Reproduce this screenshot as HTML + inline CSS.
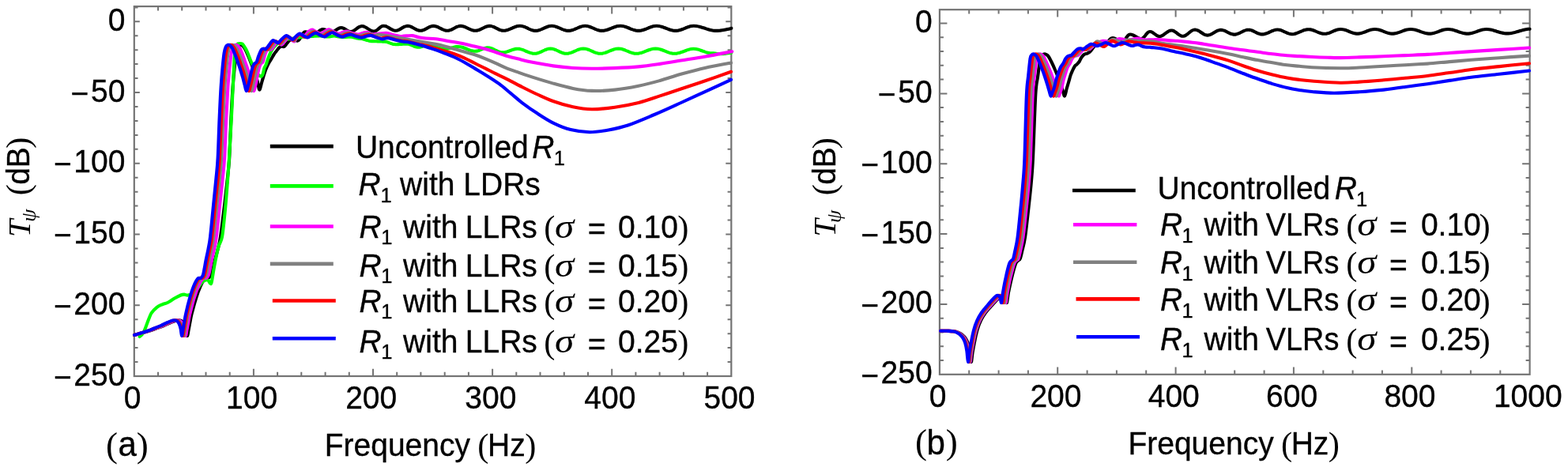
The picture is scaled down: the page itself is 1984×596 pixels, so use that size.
<!DOCTYPE html>
<html><head><meta charset="utf-8"><style>
html,body{margin:0;padding:0;background:#fff;}
svg{display:block;}
text{font-family:"Liberation Sans",Arial,sans-serif;font-size:39px;fill:#000;}
</style></head><body>
<svg width="1984" height="596" viewBox="0 0 1984 596">
<rect width="1984" height="596" fill="#fff"/>
<rect x="169.8" y="8.1" width="755.5" height="467.9" fill="none" stroke="#747474" stroke-width="2.2"/>
<path d="M200.0,476.0v-5.3M200.0,8.1v5.3M230.2,476.0v-5.3M230.2,8.1v5.3M260.5,476.0v-5.3M260.5,8.1v5.3M290.7,476.0v-5.3M290.7,8.1v5.3M320.9,476.0v-9.3M320.9,8.1v9.3M351.1,476.0v-5.3M351.1,8.1v5.3M381.3,476.0v-5.3M381.3,8.1v5.3M411.6,476.0v-5.3M411.6,8.1v5.3M441.8,476.0v-5.3M441.8,8.1v5.3M472.0,476.0v-9.3M472.0,8.1v9.3M502.2,476.0v-5.3M502.2,8.1v5.3M532.4,476.0v-5.3M532.4,8.1v5.3M562.7,476.0v-5.3M562.7,8.1v5.3M592.9,476.0v-5.3M592.9,8.1v5.3M623.1,476.0v-9.3M623.1,8.1v9.3M653.3,476.0v-5.3M653.3,8.1v5.3M683.5,476.0v-5.3M683.5,8.1v5.3M713.8,476.0v-5.3M713.8,8.1v5.3M744.0,476.0v-5.3M744.0,8.1v5.3M774.2,476.0v-9.3M774.2,8.1v9.3M804.4,476.0v-5.3M804.4,8.1v5.3M834.6,476.0v-5.3M834.6,8.1v5.3M864.9,476.0v-5.3M864.9,8.1v5.3M895.1,476.0v-5.3M895.1,8.1v5.3M169.8,458.1h4.7M925.3,458.1h-4.7M169.8,440.1h4.7M925.3,440.1h-4.7M169.8,422.2h4.7M925.3,422.2h-4.7M169.8,404.2h4.7M925.3,404.2h-4.7M169.8,386.3h7.0M925.3,386.3h-7.0M169.8,368.3h4.7M925.3,368.3h-4.7M169.8,350.4h4.7M925.3,350.4h-4.7M169.8,332.4h4.7M925.3,332.4h-4.7M169.8,314.5h4.7M925.3,314.5h-4.7M169.8,296.5h7.0M925.3,296.5h-7.0M169.8,278.6h4.7M925.3,278.6h-4.7M169.8,260.6h4.7M925.3,260.6h-4.7M169.8,242.7h4.7M925.3,242.7h-4.7M169.8,224.7h4.7M925.3,224.7h-4.7M169.8,206.8h7.0M925.3,206.8h-7.0M169.8,188.8h4.7M925.3,188.8h-4.7M169.8,170.9h4.7M925.3,170.9h-4.7M169.8,152.9h4.7M925.3,152.9h-4.7M169.8,135.0h4.7M925.3,135.0h-4.7M169.8,117.0h7.0M925.3,117.0h-7.0M169.8,99.1h4.7M925.3,99.1h-4.7M169.8,81.1h4.7M925.3,81.1h-4.7M169.8,63.2h4.7M925.3,63.2h-4.7M169.8,45.2h4.7M925.3,45.2h-4.7M169.8,27.3h7.0M925.3,27.3h-7.0M169.8,9.4h4.7M925.3,9.4h-4.7" stroke="#747474" stroke-width="2" fill="none"/>
<text transform="translate(136.73,38.80) scale(0.9630,1.0000)" style="stroke:#000;stroke-width:0.35px;font-size:40.50px">0</text>
<text transform="translate(115.04,128.54) scale(0.9630,1.0000)" style="stroke:#000;stroke-width:0.35px;font-size:40.50px">50</text>
<text transform="translate(89.62,131.74) scale(0.9630,1.0000)" style="stroke:#000;stroke-width:0.35px;font-size:40.50px">−</text>
<text transform="translate(93.35,218.28) scale(0.9630,1.0000)" style="stroke:#000;stroke-width:0.35px;font-size:40.50px">100</text>
<text transform="translate(67.93,221.48) scale(0.9630,1.0000)" style="stroke:#000;stroke-width:0.35px;font-size:40.50px">−</text>
<text transform="translate(93.35,308.02) scale(0.9630,1.0000)" style="stroke:#000;stroke-width:0.35px;font-size:40.50px">150</text>
<text transform="translate(67.93,311.22) scale(0.9630,1.0000)" style="stroke:#000;stroke-width:0.35px;font-size:40.50px">−</text>
<text transform="translate(93.35,397.76) scale(0.9630,1.0000)" style="stroke:#000;stroke-width:0.35px;font-size:40.50px">200</text>
<text transform="translate(67.93,400.96) scale(0.9630,1.0000)" style="stroke:#000;stroke-width:0.35px;font-size:40.50px">−</text>
<text transform="translate(93.35,487.50) scale(0.9630,1.0000)" style="stroke:#000;stroke-width:0.35px;font-size:40.50px">250</text>
<text transform="translate(67.93,490.70) scale(0.9630,1.0000)" style="stroke:#000;stroke-width:0.35px;font-size:40.50px">−</text>
<text transform="translate(156.66,517.30) scale(0.9630,1.0000)" style="stroke:#000;stroke-width:0.35px;font-size:40.50px">0</text>
<text transform="translate(286.07,517.30) scale(0.9630,1.0000)" style="stroke:#000;stroke-width:0.35px;font-size:40.50px">100</text>
<text transform="translate(437.17,517.30) scale(0.9630,1.0000)" style="stroke:#000;stroke-width:0.35px;font-size:40.50px">200</text>
<text transform="translate(588.27,517.30) scale(0.9630,1.0000)" style="stroke:#000;stroke-width:0.35px;font-size:40.50px">300</text>
<text transform="translate(739.37,517.30) scale(0.9630,1.0000)" style="stroke:#000;stroke-width:0.35px;font-size:40.50px">400</text>
<text transform="translate(890.47,517.30) scale(0.9630,1.0000)" style="stroke:#000;stroke-width:0.35px;font-size:40.50px">500</text>
<rect x="1188.9" y="12.2" width="746.7" height="461.6" fill="none" stroke="#747474" stroke-width="2.2"/>
<path d="M1226.2,473.8v-5.2M1226.2,12.2v5.2M1263.6,473.8v-5.2M1263.6,12.2v5.2M1300.9,473.8v-5.2M1300.9,12.2v5.2M1338.2,473.8v-9.2M1338.2,12.2v9.2M1375.6,473.8v-5.2M1375.6,12.2v5.2M1412.9,473.8v-5.2M1412.9,12.2v5.2M1450.2,473.8v-5.2M1450.2,12.2v5.2M1487.6,473.8v-9.2M1487.6,12.2v9.2M1524.9,473.8v-5.2M1524.9,12.2v5.2M1562.2,473.8v-5.2M1562.2,12.2v5.2M1599.6,473.8v-5.2M1599.6,12.2v5.2M1636.9,473.8v-9.2M1636.9,12.2v9.2M1674.3,473.8v-5.2M1674.3,12.2v5.2M1711.6,473.8v-5.2M1711.6,12.2v5.2M1748.9,473.8v-5.2M1748.9,12.2v5.2M1786.3,473.8v-9.2M1786.3,12.2v9.2M1823.6,473.8v-5.2M1823.6,12.2v5.2M1860.9,473.8v-5.2M1860.9,12.2v5.2M1898.3,473.8v-5.2M1898.3,12.2v5.2M1188.9,456.0h5.0M1935.6,456.0h-5.0M1188.9,438.3h5.0M1935.6,438.3h-5.0M1188.9,420.5h5.0M1935.6,420.5h-5.0M1188.9,402.7h5.0M1935.6,402.7h-5.0M1188.9,384.9h9.5M1935.6,384.9h-9.5M1188.9,367.2h5.0M1935.6,367.2h-5.0M1188.9,349.4h5.0M1935.6,349.4h-5.0M1188.9,331.6h5.0M1935.6,331.6h-5.0M1188.9,313.9h5.0M1935.6,313.9h-5.0M1188.9,296.1h9.5M1935.6,296.1h-9.5M1188.9,278.3h5.0M1935.6,278.3h-5.0M1188.9,260.5h5.0M1935.6,260.5h-5.0M1188.9,242.8h5.0M1935.6,242.8h-5.0M1188.9,225.0h5.0M1935.6,225.0h-5.0M1188.9,207.2h9.5M1935.6,207.2h-9.5M1188.9,189.4h5.0M1935.6,189.4h-5.0M1188.9,171.7h5.0M1935.6,171.7h-5.0M1188.9,153.9h5.0M1935.6,153.9h-5.0M1188.9,136.1h5.0M1935.6,136.1h-5.0M1188.9,118.4h9.5M1935.6,118.4h-9.5M1188.9,100.6h5.0M1935.6,100.6h-5.0M1188.9,82.8h5.0M1935.6,82.8h-5.0M1188.9,65.0h5.0M1935.6,65.0h-5.0M1188.9,47.3h5.0M1935.6,47.3h-5.0M1188.9,29.5h9.5M1935.6,29.5h-9.5" stroke="#747474" stroke-width="2" fill="none"/>
<text transform="translate(1157.93,41.00) scale(0.9630,1.0000)" style="stroke:#000;stroke-width:0.35px;font-size:40.50px">0</text>
<text transform="translate(1136.24,129.86) scale(0.9630,1.0000)" style="stroke:#000;stroke-width:0.35px;font-size:40.50px">50</text>
<text transform="translate(1110.82,133.06) scale(0.9630,1.0000)" style="stroke:#000;stroke-width:0.35px;font-size:40.50px">−</text>
<text transform="translate(1114.55,218.72) scale(0.9630,1.0000)" style="stroke:#000;stroke-width:0.35px;font-size:40.50px">100</text>
<text transform="translate(1089.13,221.92) scale(0.9630,1.0000)" style="stroke:#000;stroke-width:0.35px;font-size:40.50px">−</text>
<text transform="translate(1114.55,307.58) scale(0.9630,1.0000)" style="stroke:#000;stroke-width:0.35px;font-size:40.50px">150</text>
<text transform="translate(1089.13,310.78) scale(0.9630,1.0000)" style="stroke:#000;stroke-width:0.35px;font-size:40.50px">−</text>
<text transform="translate(1114.55,396.44) scale(0.9630,1.0000)" style="stroke:#000;stroke-width:0.35px;font-size:40.50px">200</text>
<text transform="translate(1089.13,399.64) scale(0.9630,1.0000)" style="stroke:#000;stroke-width:0.35px;font-size:40.50px">−</text>
<text transform="translate(1114.55,485.30) scale(0.9630,1.0000)" style="stroke:#000;stroke-width:0.35px;font-size:40.50px">250</text>
<text transform="translate(1089.13,488.50) scale(0.9630,1.0000)" style="stroke:#000;stroke-width:0.35px;font-size:40.50px">−</text>
<text transform="translate(1175.76,515.20) scale(0.9630,1.0000)" style="stroke:#000;stroke-width:0.35px;font-size:40.50px">0</text>
<text transform="translate(1303.41,515.20) scale(0.9630,1.0000)" style="stroke:#000;stroke-width:0.35px;font-size:40.50px">200</text>
<text transform="translate(1452.75,515.20) scale(0.9630,1.0000)" style="stroke:#000;stroke-width:0.35px;font-size:40.50px">400</text>
<text transform="translate(1602.09,515.20) scale(0.9630,1.0000)" style="stroke:#000;stroke-width:0.35px;font-size:40.50px">600</text>
<text transform="translate(1751.43,515.20) scale(0.9630,1.0000)" style="stroke:#000;stroke-width:0.35px;font-size:40.50px">800</text>
<text transform="translate(1889.92,515.20) scale(0.9630,1.0000)" style="stroke:#000;stroke-width:0.35px;font-size:40.50px">1000</text>
<path d="M170.0,424.0C171.5,423.6 175.8,422.4 178.9,421.5C182.0,420.6 185.6,419.8 188.7,418.8C191.9,417.8 194.8,416.6 197.9,415.5C201.0,414.4 204.5,413.2 207.5,412.0C210.4,410.8 212.9,409.4 215.7,408.3C218.5,407.2 222.0,405.8 224.3,405.4C226.6,405.0 227.9,405.1 229.3,405.8C230.8,406.5 232.0,407.8 233.0,409.5C234.0,411.2 234.7,413.4 235.4,416.0C236.0,418.6 236.4,424.8 236.9,425.0C237.5,425.2 238.1,419.9 238.7,417.0C239.3,414.1 239.8,410.8 240.5,407.5C241.1,404.2 241.3,402.2 242.6,397.1C243.9,392.0 246.3,382.9 248.2,377.0C250.0,371.1 251.9,366.1 253.8,362.0C255.6,357.9 257.8,354.4 259.4,352.7C261.1,351.0 262.6,352.6 263.9,351.8C265.2,351.0 266.3,350.0 267.2,348.0C268.1,346.0 268.7,343.0 269.4,340.0C270.2,337.0 270.7,334.2 271.7,330.0C272.8,325.8 274.5,320.0 275.7,315.0C276.9,310.0 277.4,310.0 278.9,300.0C280.4,290.0 283.1,267.5 284.6,255.0C286.0,242.5 286.9,234.2 287.9,225.0C288.8,215.8 289.4,212.5 290.2,200.0C290.9,187.5 291.6,165.0 292.4,150.0C293.1,135.0 293.8,120.8 294.6,110.0C295.3,99.2 296.0,92.2 296.8,85.0C297.5,77.8 298.2,71.3 299.0,67.0C299.7,62.7 300.5,60.8 301.4,59.0C302.3,57.2 303.6,56.6 304.5,56.4C305.4,56.2 306.2,57.0 307.0,57.8C307.8,58.6 308.7,59.6 309.5,61.0C310.3,62.4 311.1,64.2 312.0,66.0C312.9,67.8 313.7,69.8 314.6,72.0C315.5,74.2 316.5,77.0 317.5,79.5C318.5,82.0 319.5,84.4 320.5,87.0C321.5,89.6 322.6,92.2 323.5,95.0C324.4,97.8 325.2,101.0 326.0,104.0C326.8,107.0 327.4,112.2 328.0,113.3C328.6,114.4 329.1,111.9 329.6,110.5C330.1,109.1 330.4,107.2 331.0,105.0C331.6,102.8 332.4,99.8 333.3,97.0C334.2,94.2 335.2,90.8 336.3,88.0C337.4,85.2 338.5,82.8 339.7,80.5C340.9,78.2 342.4,76.2 343.5,74.3C344.6,72.4 345.5,70.5 346.5,69.0C347.5,67.5 348.4,66.4 349.5,65.0C350.6,63.6 351.9,61.6 353.0,60.5C354.1,59.4 354.9,58.9 356.0,58.6C357.1,58.4 358.3,59.6 359.5,59.0C360.7,58.4 361.8,56.4 363.0,55.0C364.2,53.6 365.7,51.5 367.0,50.8C368.3,50.1 369.4,50.5 371.0,50.6C372.6,50.7 375.2,51.5 376.3,51.6C377.4,51.7 377.1,51.4 377.6,51.2C378.0,50.9 378.4,50.5 378.8,49.9C379.2,49.4 379.7,48.8 380.1,48.1C380.5,47.4 380.9,46.7 381.4,46.0C381.8,45.2 382.2,44.5 382.6,43.8C383.0,43.1 383.5,42.5 383.9,42.0C384.3,41.4 384.7,41.0 385.1,40.7C385.6,40.5 386.0,40.4 386.4,40.3C386.8,40.2 387.3,40.3 387.7,40.4C388.1,40.5 388.6,40.6 389.0,40.8C389.4,40.9 389.9,41.1 390.3,41.3C390.7,41.4 391.2,41.7 391.6,41.8C392.0,42.0 392.5,42.3 392.9,42.4C393.3,42.6 393.8,42.8 394.2,42.9C394.6,43.1 395.1,43.2 395.5,43.3C395.9,43.4 396.3,43.4 396.8,43.4C397.3,43.4 397.8,43.3 398.3,43.2C398.8,43.0 399.2,42.8 399.7,42.5C400.2,42.2 400.7,41.8 401.2,41.5C401.7,41.1 402.2,40.7 402.6,40.2C403.1,39.8 403.6,39.4 404.1,39.0C404.6,38.7 405.1,38.3 405.6,38.0C406.1,37.7 406.6,37.5 407.0,37.3C407.5,37.2 408.0,37.1 408.5,37.1C409.0,37.1 409.4,37.1 409.9,37.2C410.3,37.3 410.8,37.4 411.3,37.6C411.7,37.7 412.2,37.9 412.7,38.1C413.1,38.3 413.6,38.5 414.1,38.7C414.5,38.9 415.0,39.1 415.4,39.3C415.9,39.5 416.4,39.7 416.8,39.8C417.3,40.0 417.8,40.1 418.2,40.2C418.7,40.3 419.1,40.3 419.6,40.3C420.1,40.3 420.6,40.2 421.1,40.1C421.6,40.0 422.1,39.8 422.6,39.5C423.1,39.3 423.6,39.0 424.1,38.7C424.6,38.4 425.1,38.0 425.6,37.7C426.2,37.4 426.7,37.0 427.2,36.7C427.7,36.4 428.2,36.1 428.7,35.9C429.2,35.6 429.7,35.4 430.2,35.3C430.7,35.2 431.2,35.1 431.7,35.1C432.2,35.1 432.7,35.2 433.2,35.3C433.7,35.4 434.2,35.6 434.7,35.8C435.2,36.1 435.7,36.3 436.2,36.6C436.7,36.9 437.2,37.3 437.8,37.6C438.3,37.9 438.8,38.3 439.3,38.6C439.8,38.9 440.3,39.1 440.8,39.4C441.3,39.6 441.8,39.8 442.3,39.9C442.8,40.0 443.3,40.1 443.8,40.1C444.3,40.1 445.0,40.0 445.6,39.8C446.1,39.7 446.7,39.4 447.3,39.1C447.9,38.8 448.5,38.4 449.1,37.9C449.6,37.5 450.2,37.0 450.8,36.6C451.4,36.2 452.0,35.7 452.6,35.3C453.1,34.8 453.7,34.4 454.3,34.1C454.9,33.8 455.5,33.5 456.1,33.4C456.6,33.2 457.2,33.1 457.8,33.1C458.4,33.1 459.1,33.2 459.7,33.3C460.4,33.5 461.0,33.8 461.7,34.1C462.3,34.3 463.0,34.7 463.6,35.1C464.3,35.5 464.9,35.9 465.6,36.4C466.2,36.8 466.8,37.2 467.5,37.6C468.1,38.0 468.8,38.4 469.4,38.6C470.1,38.9 470.7,39.2 471.4,39.4C472.0,39.5 472.7,39.6 473.3,39.6C473.9,39.6 474.3,39.5 474.8,39.3C475.3,39.2 475.8,38.9 476.3,38.6C476.8,38.3 477.3,37.9 477.8,37.5C478.3,37.1 478.8,36.6 479.3,36.2C479.8,35.7 480.3,35.2 480.8,34.8C481.3,34.4 481.8,34.0 482.3,33.7C482.8,33.4 483.3,33.1 483.8,33.0C484.3,32.8 484.7,32.7 485.3,32.7C485.9,32.7 486.6,32.8 487.2,32.9C487.8,33.1 488.5,33.3 489.1,33.6C489.7,33.8 490.4,34.2 491.0,34.6C491.6,34.9 492.3,35.3 492.9,35.7C493.5,36.1 494.2,36.5 494.8,36.8C495.4,37.2 496.1,37.6 496.7,37.8C497.3,38.1 498.0,38.3 498.6,38.5C499.2,38.6 499.9,38.7 500.5,38.7C501.1,38.7 501.8,38.6 502.4,38.5C503.1,38.3 503.7,38.1 504.4,37.9C505.0,37.6 505.6,37.3 506.3,36.9C506.9,36.6 507.6,36.2 508.2,35.8C508.8,35.4 509.5,35.0 510.1,34.7C510.8,34.3 511.4,34.0 512.0,33.7C512.7,33.5 513.3,33.3 514.0,33.1C514.6,33.0 515.2,32.9 515.9,32.9C516.6,32.9 517.2,33.0 517.9,33.1C518.6,33.3 519.2,33.5 519.9,33.8C520.6,34.0 521.2,34.4 521.9,34.7C522.6,35.1 523.2,35.5 523.9,35.8C524.6,36.2 525.2,36.6 525.9,37.0C526.6,37.3 527.2,37.7 527.9,37.9C528.6,38.2 529.2,38.4 529.9,38.6C530.6,38.7 531.2,38.8 531.9,38.8C532.6,38.8 533.3,38.7 534.0,38.6C534.6,38.4 535.3,38.2 536.0,37.9C536.7,37.7 537.4,37.3 538.1,37.0C538.8,36.6 539.5,36.2 540.1,35.9C540.8,35.5 541.5,35.1 542.2,34.7C542.9,34.4 543.6,34.0 544.3,33.8C545.0,33.5 545.6,33.3 546.3,33.1C547.0,33.0 547.7,32.9 548.4,32.9C549.1,32.9 549.9,33.0 550.6,33.1C551.3,33.3 552.1,33.5 552.8,33.8C553.5,34.0 554.3,34.4 555.0,34.7C555.7,35.1 556.5,35.5 557.2,35.8C557.9,36.2 558.7,36.6 559.4,37.0C560.1,37.3 560.9,37.7 561.6,37.9C562.3,38.2 563.1,38.4 563.8,38.6C564.5,38.7 565.3,38.8 566.0,38.8C566.7,38.8 567.4,38.7 568.1,38.6C568.8,38.4 569.5,38.2 570.2,37.9C570.9,37.7 571.6,37.3 572.3,37.0C573.0,36.6 573.7,36.2 574.4,35.9C575.0,35.5 575.7,35.1 576.4,34.7C577.1,34.4 577.8,34.0 578.5,33.8C579.2,33.5 579.9,33.3 580.6,33.1C581.3,33.0 582.0,32.9 582.7,32.9C583.4,32.9 584.3,33.0 585.1,33.1C585.8,33.3 586.6,33.5 587.4,33.8C588.2,34.0 589.0,34.4 589.8,34.7C590.5,35.1 591.3,35.5 592.1,35.8C592.9,36.2 593.7,36.6 594.5,37.0C595.2,37.3 596.0,37.7 596.8,37.9C597.6,38.2 598.4,38.4 599.1,38.6C599.9,38.7 600.7,38.8 601.5,38.8C602.3,38.8 603.0,38.7 603.8,38.6C604.5,38.4 605.3,38.2 606.0,37.9C606.8,37.7 607.5,37.3 608.3,37.0C609.0,36.6 609.8,36.2 610.5,35.9C611.3,35.5 612.1,35.1 612.8,34.7C613.6,34.4 614.3,34.0 615.1,33.8C615.8,33.5 616.6,33.3 617.3,33.1C618.1,33.0 618.9,32.9 619.6,32.9C620.3,32.9 621.0,33.0 621.8,33.1C622.5,33.3 623.2,33.5 624.0,33.8C624.7,34.0 625.4,34.4 626.1,34.7C626.9,35.1 627.6,35.5 628.3,35.8C629.0,36.2 629.8,36.6 630.5,37.0C631.2,37.3 631.9,37.7 632.6,37.9C633.4,38.2 634.1,38.4 634.8,38.6C635.6,38.7 636.2,38.8 637.0,38.8C637.8,38.8 638.7,38.7 639.6,38.6C640.5,38.4 641.3,38.2 642.2,37.9C643.1,37.7 643.9,37.3 644.8,36.9C645.7,36.6 646.5,36.2 647.4,35.8C648.3,35.4 649.1,35.0 650.0,34.7C650.9,34.3 651.7,33.9 652.6,33.7C653.5,33.4 654.3,33.2 655.2,33.0C656.1,32.9 657.0,32.8 657.8,32.8C658.6,32.8 659.5,32.9 660.3,33.0C661.1,33.2 661.9,33.4 662.8,33.7C663.6,34.0 664.4,34.3 665.3,34.7C666.1,35.0 666.9,35.5 667.8,35.8C668.6,36.2 669.4,36.7 670.2,37.0C671.1,37.4 671.9,37.7 672.7,38.0C673.6,38.3 674.4,38.5 675.2,38.7C676.0,38.8 676.9,38.9 677.7,38.9C678.5,38.9 679.4,38.8 680.2,38.7C681.1,38.5 682.0,38.3 682.8,38.0C683.7,37.7 684.5,37.4 685.4,37.0C686.2,36.7 687.1,36.2 687.9,35.9C688.8,35.5 689.6,35.0 690.5,34.7C691.3,34.3 692.1,34.0 693.0,33.7C693.9,33.4 694.7,33.2 695.6,33.0C696.4,32.9 697.2,32.8 698.1,32.8C699.0,32.8 699.9,32.9 700.7,33.0C701.6,33.2 702.5,33.4 703.4,33.7C704.3,34.0 705.1,34.3 706.0,34.7C706.9,35.0 707.8,35.5 708.7,35.8C709.5,36.2 710.4,36.7 711.3,37.0C712.2,37.4 713.0,37.7 713.9,38.0C714.8,38.3 715.7,38.5 716.6,38.7C717.4,38.8 718.3,38.9 719.2,38.9C720.1,38.9 721.0,38.8 721.9,38.7C722.7,38.5 723.6,38.3 724.5,38.0C725.4,37.7 726.3,37.4 727.1,37.0C728.0,36.7 728.9,36.2 729.8,35.9C730.7,35.5 731.6,35.0 732.5,34.7C733.3,34.3 734.2,34.0 735.1,33.7C736.0,33.4 736.9,33.2 737.8,33.0C738.6,32.9 739.5,32.8 740.4,32.8C741.3,32.8 742.2,32.9 743.0,33.0C743.9,33.2 744.8,33.4 745.7,33.7C746.6,34.0 747.4,34.3 748.3,34.7C749.2,35.0 750.1,35.5 751.0,35.8C751.8,36.2 752.7,36.7 753.6,37.0C754.5,37.4 755.3,37.7 756.2,38.0C757.1,38.3 758.0,38.5 758.9,38.7C759.7,38.8 760.6,38.9 761.5,38.9C762.4,38.9 763.5,38.8 764.5,38.7C765.4,38.5 766.4,38.3 767.4,38.0C768.4,37.7 769.4,37.4 770.4,37.0C771.3,36.7 772.3,36.2 773.3,35.9C774.3,35.5 775.3,35.0 776.2,34.7C777.2,34.3 778.2,34.0 779.2,33.7C780.2,33.4 781.2,33.2 782.1,33.0C783.1,32.9 784.1,32.8 785.1,32.8C786.1,32.8 787.0,32.9 788.0,33.0C788.9,33.2 789.8,33.4 790.8,33.7C791.8,34.0 792.7,34.3 793.6,34.7C794.6,35.0 795.5,35.5 796.5,35.8C797.5,36.2 798.4,36.7 799.4,37.0C800.3,37.4 801.2,37.7 802.2,38.0C803.2,38.3 804.1,38.5 805.0,38.7C806.0,38.8 806.9,38.9 807.9,38.9C808.9,38.9 809.8,38.8 810.8,38.7C811.7,38.5 812.6,38.3 813.6,38.0C814.6,37.7 815.5,37.4 816.5,37.0C817.4,36.7 818.3,36.2 819.3,35.9C820.2,35.5 821.2,35.0 822.1,34.7C823.1,34.3 824.0,34.0 825.0,33.7C826.0,33.4 826.9,33.2 827.9,33.0C828.8,32.9 829.7,32.8 830.7,32.8C831.7,32.8 832.7,32.9 833.7,33.0C834.7,33.2 835.7,33.4 836.8,33.7C837.8,34.0 838.8,34.3 839.8,34.7C840.8,35.0 841.8,35.5 842.8,35.8C843.8,36.2 844.8,36.7 845.8,37.0C846.8,37.4 847.8,37.7 848.9,38.0C849.9,38.3 850.9,38.5 851.9,38.7C852.9,38.8 853.9,38.9 854.9,38.9C855.9,38.9 856.8,38.8 857.8,38.7C858.7,38.5 859.6,38.3 860.6,38.0C861.6,37.7 862.5,37.4 863.5,37.0C864.4,36.7 865.3,36.2 866.3,35.9C867.2,35.5 868.2,35.0 869.1,34.7C870.1,34.3 871.0,34.0 872.0,33.7C873.0,33.4 873.9,33.2 874.9,33.0C875.8,32.9 876.6,32.8 877.7,32.8C878.8,32.8 880.1,32.9 881.2,33.0C882.4,33.2 883.6,33.4 884.8,33.7C886.0,34.0 887.1,34.3 888.3,34.7C889.5,35.0 890.7,35.5 891.9,35.8C893.0,36.2 894.2,36.7 895.4,37.0C896.6,37.4 897.7,37.7 898.9,38.0C900.1,38.3 901.3,38.5 902.5,38.7C903.6,38.8 904.6,38.9 906.0,38.9C907.4,38.9 909.2,38.8 910.8,38.7C912.3,38.5 913.9,38.3 915.5,38.0C917.1,37.7 918.7,37.4 920.2,37.0C921.8,36.7 924.2,36.1 925.0,35.9C925.8,35.6 925.2,35.8 925.3,35.8" stroke="#000000" stroke-width="4.1" fill="none" stroke-linejoin="round" stroke-linecap="round"/>
<path d="M176.7,426.0C177.2,425.6 178.5,424.8 179.5,423.5C180.5,422.2 181.4,421.2 182.6,418.5C183.8,415.8 185.3,411.3 186.8,407.5C188.3,403.7 189.9,398.9 191.8,395.8C193.8,392.7 196.3,390.6 198.5,388.8C200.7,387.1 202.9,386.3 205.2,385.3C207.4,384.3 209.5,384.2 212.0,383.0C214.5,381.8 217.5,379.4 220.3,377.8C223.1,376.2 226.6,374.4 228.7,373.5C230.8,372.6 231.5,372.6 233.0,372.6C234.5,372.6 236.1,373.9 237.9,373.6C239.7,373.3 242.0,372.4 244.0,371.0C246.0,369.6 248.2,367.2 250.0,365.0C251.8,362.8 253.5,359.7 255.0,358.0C256.5,356.3 257.7,355.6 259.0,355.0C260.3,354.4 261.8,353.9 263.0,354.5C264.2,355.1 265.2,357.9 266.0,358.5C266.8,359.1 266.9,359.9 267.5,358.0C268.1,356.1 268.7,351.5 269.5,346.8C270.3,342.1 271.3,335.8 272.5,330.0C273.7,324.2 275.1,317.0 276.5,312.0C277.9,307.0 279.7,307.0 281.0,300.0C282.3,293.0 283.4,280.8 284.5,270.0C285.6,259.2 286.6,246.7 287.5,235.0C288.4,223.3 289.1,214.2 290.0,200.0C290.9,185.8 291.9,166.7 292.8,150.0C293.7,133.3 294.6,112.5 295.2,100.0C295.8,87.5 296.1,81.3 296.5,75.0C296.9,68.7 297.2,65.1 297.8,62.0C298.4,58.9 299.1,57.4 300.0,56.2C300.9,55.0 302.4,55.1 303.5,55.0C304.6,54.9 305.7,55.0 306.6,55.5C307.5,56.0 308.0,57.1 308.8,58.3C309.6,59.5 310.5,60.9 311.3,62.5C312.1,64.1 313.0,66.0 313.8,68.0C314.6,70.0 315.4,72.2 316.3,74.5C317.2,76.8 318.1,79.2 319.2,81.5C320.2,83.8 321.4,85.9 322.6,88.0C323.8,90.1 325.2,92.5 326.5,94.0C327.8,95.5 329.3,96.8 330.3,96.8C331.3,96.8 331.8,95.8 332.5,94.0C333.2,92.2 333.8,88.0 334.5,86.0C335.2,84.0 335.6,84.3 336.5,82.0C337.4,79.7 338.7,75.2 340.0,72.0C341.3,68.8 342.7,65.4 344.4,62.7C346.1,60.0 348.1,57.8 350.0,56.0C351.9,54.2 353.5,53.1 356.0,52.0C358.5,50.9 361.8,50.2 365.0,49.5C368.2,48.8 371.7,48.5 375.0,48.0C378.3,47.5 381.7,46.8 385.0,46.5C388.3,46.2 391.7,46.2 395.0,46.0C398.3,45.8 401.7,45.4 405.0,45.5C408.3,45.6 412.0,46.5 415.0,46.5C418.0,46.5 420.2,45.4 423.0,45.5C425.8,45.6 428.7,46.8 432.0,47.0C435.3,47.2 440.6,46.7 442.6,46.6C444.6,46.5 443.7,46.6 444.3,46.7C444.8,46.7 445.4,46.8 446.0,47.0C446.5,47.1 447.1,47.2 447.6,47.3C448.2,47.5 448.7,47.6 449.3,47.8C449.9,48.0 450.4,48.1 451.0,48.3C451.5,48.4 452.1,48.5 452.6,48.6C453.2,48.8 453.8,48.9 454.3,48.9C454.9,49.0 455.4,49.0 456.0,49.0C456.6,49.0 457.2,49.0 457.8,49.1C458.4,49.2 459.0,49.3 459.6,49.5C460.1,49.6 460.7,49.8 461.3,50.0C461.9,50.1 462.5,50.4 463.1,50.5C463.7,50.7 464.3,51.0 464.9,51.1C465.5,51.3 466.1,51.5 466.6,51.6C467.2,51.8 467.8,51.9 468.4,52.0C469.0,52.1 469.6,52.1 470.2,52.1C470.8,52.1 471.5,52.1 472.2,52.1C472.8,52.1 473.5,52.2 474.1,52.2C474.8,52.2 475.5,52.2 476.1,52.3C476.8,52.3 477.4,52.3 478.1,52.4C478.8,52.4 479.4,52.4 480.1,52.4C480.7,52.5 481.4,52.5 482.1,52.5C482.7,52.5 483.4,52.6 484.0,52.6C484.7,52.6 485.4,52.6 486.0,52.6C486.6,52.6 487.2,52.6 487.8,52.7C488.4,52.8 489.0,53.0 489.6,53.1C490.2,53.3 490.8,53.5 491.4,53.7C492.0,53.9 492.6,54.2 493.2,54.4C493.9,54.6 494.5,54.9 495.1,55.1C495.7,55.3 496.3,55.5 496.9,55.7C497.5,55.8 498.1,56.0 498.7,56.1C499.3,56.2 499.9,56.2 500.5,56.2C501.1,56.2 501.7,56.2 502.3,56.2C502.9,56.2 503.5,56.1 504.1,56.1C504.7,56.1 505.3,56.1 505.9,56.0C506.5,56.0 507.1,55.9 507.8,55.9C508.4,55.9 509.0,55.8 509.6,55.8C510.2,55.7 510.8,55.7 511.4,55.7C512.0,55.7 512.6,55.6 513.2,55.6C513.8,55.6 514.4,55.6 515.0,55.6C515.6,55.6 516.1,55.7 516.7,55.8C517.3,55.9 517.9,56.0 518.4,56.2C519.0,56.4 519.6,56.6 520.1,56.9C520.7,57.1 521.3,57.4 521.9,57.6C522.4,57.9 523.0,58.2 523.6,58.4C524.1,58.7 524.7,58.9 525.3,59.1C525.8,59.3 526.4,59.4 527.0,59.5C527.6,59.6 528.1,59.7 528.7,59.7C529.3,59.7 529.8,59.7 530.3,59.6C530.9,59.6 531.4,59.5 532.0,59.4C532.5,59.3 533.0,59.1 533.6,59.0C534.1,58.9 534.7,58.7 535.2,58.6C535.7,58.4 536.3,58.2 536.8,58.1C537.4,58.0 537.9,57.8 538.5,57.7C539.0,57.6 539.5,57.5 540.1,57.5C540.6,57.4 541.0,57.4 541.7,57.4C542.4,57.4 543.5,57.5 544.4,57.6C545.3,57.7 546.2,57.9 547.1,58.1C548.0,58.3 548.9,58.5 549.8,58.8C550.7,59.1 551.6,59.4 552.5,59.7C553.3,60.0 554.2,60.3 555.1,60.6C556.0,60.9 556.9,61.1 557.8,61.3C558.7,61.5 559.6,61.7 560.5,61.8C561.4,61.9 562.4,62.0 563.2,62.0C564.0,62.0 564.5,62.0 565.2,61.9C565.9,61.8 566.6,61.7 567.2,61.6C567.9,61.4 568.6,61.3 569.2,61.1C569.9,60.9 570.6,60.7 571.2,60.5C571.9,60.3 572.6,60.1 573.3,59.9C573.9,59.7 574.6,59.6 575.3,59.4C575.9,59.3 576.6,59.2 577.3,59.1C578.0,59.0 578.5,59.0 579.3,59.0C580.1,59.0 581.1,59.1 582.1,59.2C583.0,59.4 583.9,59.6 584.8,59.8C585.8,60.1 586.7,60.4 587.6,60.8C588.5,61.1 589.5,61.5 590.4,61.9C591.3,62.3 592.2,62.7 593.2,63.0C594.1,63.4 595.0,63.7 596.0,64.0C596.9,64.2 597.8,64.4 598.7,64.6C599.6,64.7 600.7,64.8 601.5,64.8C602.3,64.8 602.8,64.7 603.4,64.6C604.1,64.5 604.7,64.3 605.4,64.1C606.0,63.9 606.7,63.7 607.3,63.4C608.0,63.1 608.6,62.8 609.2,62.5C609.9,62.3 610.5,62.0 611.2,61.7C611.8,61.4 612.5,61.2 613.1,61.0C613.8,60.8 614.4,60.6 615.1,60.5C615.7,60.4 616.3,60.3 617.0,60.3C617.7,60.3 618.6,60.4 619.4,60.5C620.2,60.7 621.0,60.9 621.8,61.2C622.5,61.5 623.3,61.8 624.1,62.2C624.9,62.5 625.7,63.0 626.5,63.4C627.3,63.7 628.1,64.2 628.9,64.5C629.7,64.9 630.5,65.2 631.2,65.5C632.0,65.8 632.8,66.0 633.6,66.2C634.4,66.3 635.2,66.4 636.0,66.4C636.8,66.4 637.6,66.3 638.4,66.2C639.1,66.1 639.9,65.9 640.7,65.7C641.5,65.5 642.3,65.2 643.1,64.9C643.9,64.7 644.7,64.3 645.5,64.1C646.2,63.8 647.0,63.4 647.8,63.2C648.6,62.9 649.4,62.6 650.2,62.4C651.0,62.2 651.8,62.0 652.5,61.9C653.3,61.8 654.1,61.7 654.9,61.7C655.7,61.7 656.7,61.8 657.6,61.9C658.5,62.1 659.4,62.3 660.3,62.6C661.2,62.9 662.1,63.2 663.0,63.6C663.9,63.9 664.8,64.4 665.6,64.8C666.5,65.1 667.4,65.6 668.3,65.9C669.2,66.3 670.1,66.6 671.0,66.9C671.9,67.2 672.8,67.4 673.7,67.6C674.6,67.7 675.5,67.8 676.4,67.8C677.3,67.8 678.1,67.7 678.9,67.6C679.8,67.4 680.6,67.2 681.4,66.9C682.3,66.6 683.1,66.3 683.9,65.9C684.8,65.5 685.6,65.1 686.5,64.7C687.3,64.3 688.1,63.9 689.0,63.5C689.8,63.1 690.6,62.8 691.5,62.5C692.3,62.2 693.1,62.0 694.0,61.8C694.8,61.7 695.7,61.6 696.5,61.6C697.3,61.6 698.2,61.7 699.0,61.8C699.9,62.0 700.7,62.2 701.5,62.5C702.4,62.8 703.2,63.1 704.0,63.5C704.9,63.9 705.7,64.3 706.5,64.7C707.4,65.1 708.2,65.5 709.1,65.9C709.9,66.3 710.7,66.6 711.6,66.9C712.4,67.2 713.2,67.4 714.1,67.6C714.9,67.7 715.7,67.8 716.6,67.8C717.5,67.8 718.4,67.7 719.3,67.6C720.2,67.4 721.1,67.2 722.0,66.9C722.9,66.6 723.8,66.3 724.7,65.9C725.6,65.5 726.5,65.1 727.4,64.7C728.2,64.3 729.1,63.9 730.0,63.5C730.9,63.1 731.8,62.8 732.7,62.5C733.6,62.2 734.5,62.0 735.4,61.8C736.3,61.7 737.2,61.6 738.1,61.6C739.0,61.6 739.9,61.7 740.8,61.8C741.7,62.0 742.6,62.2 743.5,62.5C744.4,62.8 745.3,63.1 746.2,63.5C747.1,63.9 748.0,64.3 748.9,64.7C749.7,65.1 750.6,65.5 751.5,65.9C752.4,66.3 753.3,66.6 754.2,66.9C755.1,67.2 756.0,67.4 756.9,67.6C757.8,67.7 758.7,67.8 759.6,67.8C760.5,67.8 761.5,67.7 762.5,67.6C763.4,67.4 764.3,67.2 765.3,66.9C766.2,66.6 767.2,66.3 768.1,65.9C769.1,65.5 770.0,65.1 771.0,64.7C772.0,64.3 772.9,63.9 773.9,63.5C774.8,63.1 775.8,62.8 776.7,62.5C777.7,62.2 778.6,62.0 779.5,61.8C780.5,61.7 781.4,61.6 782.4,61.6C783.4,61.6 784.3,61.7 785.2,61.8C786.2,62.0 787.1,62.2 788.1,62.5C789.1,62.8 790.0,63.1 791.0,63.5C791.9,63.9 792.8,64.3 793.8,64.7C794.8,65.1 795.7,65.5 796.6,65.9C797.6,66.3 798.5,66.6 799.5,66.9C800.5,67.2 801.4,67.4 802.4,67.6C803.3,67.7 804.2,67.8 805.2,67.8C806.2,67.8 807.2,67.7 808.2,67.6C809.2,67.4 810.2,67.2 811.2,66.9C812.3,66.6 813.3,66.3 814.3,65.9C815.3,65.5 816.3,65.1 817.3,64.7C818.3,64.3 819.3,63.9 820.3,63.5C821.3,63.1 822.3,62.8 823.4,62.5C824.4,62.2 825.4,62.0 826.4,61.8C827.4,61.7 828.4,61.6 829.4,61.6C830.4,61.6 831.4,61.7 832.4,61.8C833.4,62.0 834.4,62.2 835.5,62.5C836.5,62.8 837.5,63.1 838.5,63.5C839.5,63.9 840.5,64.3 841.5,64.7C842.5,65.1 843.5,65.5 844.5,65.9C845.5,66.3 846.5,66.6 847.5,66.9C848.6,67.2 849.6,67.4 850.6,67.6C851.6,67.7 852.6,67.8 853.6,67.8C854.6,67.8 855.6,67.7 856.6,67.6C857.6,67.4 858.6,67.2 859.6,66.9C860.6,66.7 861.6,66.3 862.6,65.9C863.6,65.6 864.6,65.2 865.5,64.8C866.5,64.4 867.5,64.0 868.5,63.7C869.5,63.3 870.5,62.9 871.5,62.7C872.5,62.4 873.5,62.2 874.5,62.0C875.5,61.9 876.5,61.8 877.5,61.8C878.5,61.8 879.4,61.9 880.3,62.0C881.2,62.1 882.2,62.3 883.1,62.6C884.1,62.8 885.0,63.1 885.9,63.5C886.9,63.8 887.8,64.2 888.8,64.5C889.7,64.8 890.6,65.2 891.6,65.5C892.5,65.9 893.4,66.2 894.4,66.4C895.3,66.7 896.2,66.9 897.2,67.0C898.1,67.1 899.3,67.2 900.0,67.2C900.7,67.2 901.1,67.2 901.6,67.2C902.2,67.3 902.7,67.3 903.2,67.4C903.8,67.4 904.3,67.5 904.9,67.5C905.4,67.6 906.0,67.7 906.5,67.8C907.0,67.8 907.6,67.9 908.1,68.0C908.7,68.0 909.2,68.1 909.8,68.1C910.3,68.2 910.8,68.2 911.4,68.3C911.9,68.3 912.5,68.3 913.0,68.3C913.5,68.3 914.1,68.3 914.6,68.2C915.2,68.2 915.7,68.1 916.2,68.1C916.8,68.0 917.3,67.9 917.9,67.8C918.4,67.7 919.0,67.6 919.5,67.5C920.0,67.5 920.6,67.4 921.1,67.3C921.7,67.2 922.2,67.1 922.8,67.0C923.3,67.0 924.0,66.9 924.4,66.9C924.8,66.8 925.1,66.8 925.3,66.8" stroke="#00ff00" stroke-width="4.1" fill="none" stroke-linejoin="round" stroke-linecap="round"/>
<path d="M170.0,424.0C171.4,423.6 175.6,422.4 178.6,421.5C181.7,420.6 185.1,419.8 188.1,418.8C191.2,417.8 194.0,416.6 197.0,415.5C200.0,414.4 203.4,413.2 206.3,412.0C209.2,410.8 211.6,409.4 214.3,408.3C217.0,407.2 220.4,405.8 222.6,405.4C224.8,405.0 226.1,405.1 227.5,405.8C228.9,406.5 230.1,407.8 231.0,409.5C232.0,411.2 232.7,413.4 233.3,416.0C233.9,418.6 234.3,424.8 234.8,425.0C235.4,425.2 236.0,419.9 236.5,417.0C237.1,414.1 237.6,410.8 238.3,407.5C238.9,404.2 239.1,402.2 240.3,397.1C241.6,392.0 243.9,382.9 245.7,377.0C247.5,371.1 249.3,366.1 251.1,362.0C252.9,357.9 255.0,354.4 256.6,352.7C258.3,351.0 259.7,352.6 261.0,351.8C262.2,351.0 263.1,350.0 263.9,348.0C264.7,346.0 265.1,343.0 265.7,340.0C266.3,337.0 266.8,334.2 267.6,330.0C268.5,325.8 270.0,320.0 271.0,315.0C272.0,310.0 272.4,310.0 273.7,300.0C275.0,290.0 277.2,267.5 278.6,255.0C279.9,242.5 280.9,234.2 281.8,225.0C282.7,215.8 283.3,212.5 284.1,200.0C284.8,187.5 285.5,165.0 286.2,150.0C286.9,135.0 287.7,120.8 288.4,110.0C289.1,99.2 289.8,92.2 290.5,85.0C291.3,77.8 292.0,71.3 292.7,67.0C293.5,62.7 294.2,60.7 295.1,59.0C296.0,57.3 297.1,57.0 298.0,56.8C298.9,56.6 299.8,56.9 300.7,57.6C301.6,58.3 302.5,59.3 303.5,61.0C304.4,62.7 305.4,65.3 306.5,68.0C307.5,70.7 308.6,73.8 309.7,77.0C310.9,80.2 312.1,83.6 313.2,87.0C314.3,90.4 315.5,94.1 316.4,97.5C317.4,100.9 318.2,104.6 319.0,107.5C319.8,110.4 320.5,114.6 321.1,115.0C321.7,115.4 322.2,112.2 322.8,110.0C323.3,107.8 323.9,105.2 324.5,102.0C325.2,98.8 325.9,94.2 326.6,91.0C327.3,87.8 328.1,84.8 328.8,83.0C329.4,81.2 330.1,80.7 330.7,80.0C331.3,79.3 331.8,79.9 332.5,78.6C333.1,77.3 333.8,74.0 334.4,72.0C335.0,70.0 335.5,68.4 336.1,66.8C336.8,65.2 337.4,63.4 338.1,62.6C338.8,61.8 339.5,61.9 340.3,61.9C341.0,62.0 341.7,63.4 342.5,63.0C343.3,62.7 344.2,61.3 345.1,60.1C346.0,59.0 347.0,57.2 347.9,56.0C348.8,54.9 349.5,53.3 350.4,53.1C351.3,52.9 352.3,54.2 353.4,54.8C354.4,55.4 355.3,57.1 356.6,56.5C357.8,55.9 359.3,53.0 360.7,51.5C362.2,50.0 363.9,47.8 365.2,47.6C366.6,47.4 367.8,49.3 369.0,50.1C370.1,50.9 371.2,52.9 372.2,52.5C373.3,52.1 374.2,49.3 375.3,47.7C376.4,46.1 377.6,43.4 378.8,42.8C380.0,42.2 381.4,43.8 382.6,44.1C383.9,44.4 385.1,45.4 386.3,44.7C387.5,44.0 388.7,41.3 390.1,40.1C391.6,38.9 393.3,37.5 395.0,37.6C396.7,37.7 398.6,39.7 400.5,40.5C402.4,41.3 404.4,42.7 406.1,42.5C407.9,42.3 409.3,40.4 411.0,39.5C412.7,38.6 414.2,37.1 416.1,37.3C418.0,37.5 420.4,39.6 422.5,40.5C424.6,41.4 426.6,42.6 428.5,42.6C430.4,42.6 432.2,41.3 434.0,40.8C435.8,40.3 437.1,39.4 439.1,39.6C441.1,39.8 443.6,41.3 446.0,42.0C448.4,42.7 451.0,43.6 453.2,43.6C455.4,43.6 457.1,42.2 459.0,41.8C460.9,41.3 462.7,40.6 464.9,40.9C467.1,41.2 468.0,43.4 472.0,43.5C476.0,43.6 484.5,41.6 488.7,41.7C492.9,41.8 494.2,43.3 497.0,44.0C499.8,44.7 502.7,45.7 505.5,45.9C508.3,46.1 511.2,45.5 514.0,45.4C516.8,45.3 519.6,44.8 522.3,45.1C525.0,45.4 527.2,46.6 530.0,47.2C532.8,47.8 535.4,48.2 539.0,48.5C542.6,48.8 546.9,48.6 551.6,49.2C556.3,49.8 561.2,50.8 567.2,51.9C573.2,53.0 581.9,54.5 587.4,55.6C592.9,56.7 595.5,57.5 600.0,58.6C604.5,59.7 609.7,60.8 614.2,62.0C618.7,63.2 622.7,64.6 627.0,66.0C631.3,67.4 635.2,69.1 640.0,70.5C644.8,71.9 650.4,73.3 656.0,74.6C661.6,76.0 666.4,77.3 673.7,78.8C681.0,80.2 691.5,82.2 700.0,83.4C708.5,84.6 716.9,85.5 725.0,86.0C733.1,86.6 740.1,86.8 748.9,86.8C757.7,86.8 768.2,86.5 778.0,86.1C787.8,85.7 798.4,85.2 807.9,84.4C817.4,83.5 826.0,82.2 835.0,80.9C844.0,79.6 851.9,78.2 861.6,76.6C871.3,75.0 882.7,73.3 893.0,71.4C903.3,69.6 918.2,66.7 923.5,65.7C928.8,64.7 924.8,65.5 925.0,65.5" stroke="#ff00ff" stroke-width="4.1" fill="none" stroke-linejoin="round" stroke-linecap="round"/>
<path d="M170.0,424.0C171.4,423.6 175.4,422.4 178.4,421.5C181.3,420.6 184.6,419.8 187.5,418.8C190.5,417.8 193.2,416.6 196.1,415.5C199.0,414.4 202.3,413.2 205.1,412.0C207.9,410.8 210.2,409.4 212.8,408.3C215.4,407.2 218.7,405.8 220.8,405.4C223.0,405.0 224.2,405.1 225.5,405.8C226.9,406.5 228.0,407.8 229.0,409.5C229.9,411.2 230.6,413.4 231.2,416.0C231.8,418.6 232.1,424.8 232.6,425.0C233.1,425.2 233.7,419.9 234.3,417.0C234.9,414.1 235.4,410.8 236.0,407.5C236.6,404.2 236.7,402.2 237.9,397.1C239.1,392.0 241.4,382.9 243.2,377.0C244.9,371.1 246.6,366.1 248.4,362.0C250.1,357.9 252.1,354.4 253.7,352.7C255.3,351.0 256.7,352.6 257.9,351.8C259.0,351.0 259.9,350.0 260.7,348.0C261.5,346.0 261.9,343.0 262.5,340.0C263.1,337.0 263.5,334.2 264.4,330.0C265.2,325.8 266.6,320.0 267.6,315.0C268.6,310.0 269.0,310.0 270.2,300.0C271.4,290.0 273.6,267.5 274.9,255.0C276.2,242.5 277.1,234.2 278.0,225.0C278.9,215.8 279.5,212.5 280.2,200.0C280.9,187.5 281.6,165.0 282.3,150.0C283.0,135.0 283.7,120.8 284.4,110.0C285.1,99.2 285.8,92.2 286.5,85.0C287.2,77.8 287.8,71.3 288.6,67.0C289.3,62.7 290.0,60.7 290.9,59.0C291.7,57.3 292.7,57.0 293.7,56.8C294.6,56.6 295.5,56.9 296.5,57.6C297.5,58.3 298.4,59.3 299.4,61.0C300.4,62.7 301.5,65.3 302.6,68.0C303.7,70.7 304.8,73.8 306.0,77.0C307.2,80.2 308.5,83.6 309.7,87.0C310.8,90.4 312.0,94.1 313.0,97.5C314.0,100.9 314.9,104.6 315.7,107.5C316.5,110.4 317.2,114.6 317.9,115.0C318.6,115.4 319.1,112.2 319.7,110.0C320.3,107.8 320.8,105.2 321.5,102.0C322.2,98.8 323.0,94.2 323.7,91.0C324.4,87.8 325.2,84.8 325.9,83.0C326.6,81.2 327.3,80.7 328.0,80.0C328.6,79.3 329.2,79.9 329.8,78.6C330.4,77.3 331.2,74.0 331.8,72.0C332.5,70.0 333.0,68.4 333.7,66.8C334.3,65.2 335.0,63.4 335.7,62.6C336.4,61.7 337.2,61.7 338.0,61.8C338.8,61.8 339.5,63.1 340.3,62.8C341.2,62.4 342.1,60.9 343.1,59.7C344.0,58.5 345.1,56.6 346.1,55.4C347.0,54.2 347.8,52.6 348.8,52.3C349.7,52.1 350.8,53.4 351.9,53.9C353.0,54.4 354.1,56.1 355.4,55.5C356.7,54.9 358.3,52.0 359.9,50.5C361.4,49.0 363.2,46.8 364.7,46.6C366.2,46.4 367.5,48.3 368.7,49.1C370.0,49.9 371.1,51.8 372.2,51.5C373.3,51.2 374.2,48.7 375.4,47.5C376.5,46.3 377.7,44.4 379.0,44.1C380.2,43.8 381.6,45.5 382.9,46.0C384.1,46.4 385.1,47.4 386.5,46.8C388.0,46.2 389.8,43.3 391.5,42.1C393.2,40.9 394.8,39.5 396.5,39.6C398.2,39.6 400.1,41.6 402.0,42.4C403.9,43.2 405.9,44.6 407.6,44.4C409.4,44.2 410.8,42.3 412.5,41.4C414.2,40.5 415.7,39.0 417.6,39.1C419.5,39.3 421.9,41.4 424.0,42.3C426.1,43.2 428.1,44.3 430.0,44.4C431.9,44.4 433.7,43.1 435.5,42.5C437.3,42.0 438.6,41.1 440.6,41.3C442.6,41.5 445.1,43.0 447.5,43.7C449.9,44.3 452.5,45.3 454.7,45.2C456.9,45.2 458.6,43.9 460.5,43.4C462.4,42.9 464.2,42.2 466.4,42.5C468.6,42.7 471.2,44.8 473.5,45.0C475.8,45.2 475.6,43.5 480.0,43.8C484.4,44.1 493.3,45.9 500.0,47.0C506.7,48.1 513.6,49.3 520.3,50.5C527.0,51.7 533.3,52.8 540.0,54.0C546.7,55.2 552.6,56.0 560.5,57.9C568.4,59.8 580.8,63.8 587.4,65.6C594.0,67.5 595.5,67.6 600.0,69.0C604.5,70.4 609.7,72.4 614.2,74.3C618.7,76.1 622.7,77.9 627.0,79.9C631.3,81.8 635.2,83.9 640.0,85.9C644.8,87.9 650.4,89.7 656.0,91.6C661.6,93.6 666.4,95.2 673.7,97.6C681.0,99.9 691.5,103.2 700.0,105.6C708.5,108.0 716.9,110.4 725.0,111.9C733.1,113.5 740.1,114.6 748.9,114.9C757.7,115.2 768.2,114.7 778.0,113.6C787.8,112.6 798.4,110.7 807.9,108.8C817.4,106.9 826.0,104.5 835.0,102.0C844.0,99.5 851.9,96.5 861.6,93.8C871.3,91.1 882.4,88.1 893.0,85.7C903.6,83.3 919.7,80.5 925.0,79.4" stroke="#808080" stroke-width="4.1" fill="none" stroke-linejoin="round" stroke-linecap="round"/>
<path d="M170.0,424.0C171.4,423.6 175.3,422.4 178.2,421.5C181.0,420.6 184.3,419.8 187.2,418.8C190.1,417.8 192.7,416.6 195.5,415.5C198.4,414.4 201.6,413.2 204.3,412.0C207.1,410.8 209.3,409.4 211.9,408.3C214.5,407.2 217.7,405.8 219.8,405.4C221.8,405.0 223.0,405.1 224.4,405.8C225.7,406.5 226.8,407.8 227.7,409.5C228.7,411.2 229.3,413.4 229.9,416.0C230.5,418.6 230.8,424.8 231.3,425.0C231.8,425.2 232.4,419.9 232.9,417.0C233.5,414.1 234.0,410.8 234.6,407.5C235.2,404.2 235.3,402.2 236.5,397.1C237.7,392.0 239.9,382.9 241.6,377.0C243.3,371.1 245.0,366.1 246.7,362.0C248.5,357.9 250.4,354.4 252.0,352.7C253.5,351.0 254.9,352.6 256.0,351.8C257.2,351.0 258.1,350.0 258.8,348.0C259.6,346.0 259.9,343.0 260.5,340.0C261.1,337.0 261.5,334.2 262.4,330.0C263.2,325.8 264.6,320.0 265.5,315.0C266.5,310.0 266.9,310.0 268.1,300.0C269.3,290.0 271.4,267.5 272.7,255.0C274.0,242.5 274.9,234.2 275.8,225.0C276.6,215.8 277.2,212.5 277.9,200.0C278.6,187.5 279.3,165.0 280.0,150.0C280.6,135.0 281.3,120.8 282.0,110.0C282.7,99.2 283.4,92.2 284.0,85.0C284.7,77.8 285.4,71.3 286.1,67.0C286.8,62.7 287.5,60.7 288.3,59.0C289.2,57.3 290.2,57.0 291.1,56.8C292.0,56.6 292.9,56.9 293.9,57.6C294.8,58.3 295.7,59.3 296.7,61.0C297.7,62.7 298.7,65.3 299.8,68.0C300.9,70.7 302.0,73.8 303.2,77.0C304.3,80.2 305.6,83.6 306.7,87.0C307.9,90.4 309.0,94.1 310.0,97.5C311.0,100.9 311.9,104.6 312.7,107.5C313.5,110.4 314.1,114.6 314.8,115.0C315.5,115.4 316.0,112.2 316.6,110.0C317.3,107.8 317.8,105.2 318.5,102.0C319.3,98.8 320.1,94.2 320.9,91.0C321.6,87.8 322.4,84.8 323.2,83.0C323.9,81.2 324.6,80.7 325.3,80.0C325.9,79.3 326.5,79.9 327.2,78.6C327.9,77.3 328.6,74.0 329.3,72.0C330.0,70.0 330.6,68.4 331.2,66.8C331.9,65.2 332.6,63.4 333.3,62.5C334.1,61.7 335.0,61.6 335.8,61.6C336.6,61.6 337.3,62.9 338.2,62.5C339.0,62.2 340.0,60.6 341.0,59.4C342.0,58.1 343.1,56.2 344.1,55.0C345.1,53.7 345.9,52.1 346.9,51.8C347.9,51.5 349.1,52.7 350.2,53.2C351.4,53.7 352.4,55.4 353.8,54.8C355.2,54.2 356.8,51.3 358.4,49.8C360.0,48.3 361.9,46.1 363.5,45.9C365.0,45.7 366.3,47.6 367.6,48.4C368.9,49.2 370.0,51.1 371.3,50.8C372.5,50.5 373.6,48.0 374.9,46.8C376.2,45.6 377.7,43.6 379.1,43.4C380.6,43.2 382.2,45.1 383.7,45.8C385.2,46.4 386.4,47.6 388.0,47.2C389.5,46.7 391.3,44.2 393.0,43.1C394.7,42.0 396.2,40.5 398.0,40.6C399.8,40.7 401.6,42.7 403.5,43.5C405.4,44.3 407.4,45.7 409.1,45.5C410.9,45.3 412.3,43.4 414.0,42.5C415.7,41.6 417.2,40.1 419.1,40.3C421.0,40.5 423.4,42.6 425.5,43.5C427.6,44.4 429.6,45.6 431.5,45.6C433.4,45.6 435.2,44.3 437.0,43.8C438.8,43.3 440.1,42.4 442.1,42.6C444.1,42.8 446.6,44.3 449.0,45.0C451.4,45.7 454.0,46.6 456.2,46.6C458.4,46.6 460.1,45.2 462.0,44.8C463.9,44.3 465.7,43.6 467.9,43.9C470.1,44.2 472.6,45.7 475.0,46.5C477.4,47.3 480.3,48.3 482.2,48.5C484.1,48.7 485.1,47.7 486.5,47.5C487.9,47.3 488.4,46.8 490.6,47.2C492.8,47.6 496.4,49.0 499.5,49.8C502.6,50.5 506.4,51.3 509.0,51.7C511.6,52.1 511.5,51.5 514.9,52.2C518.3,52.9 525.0,54.8 529.2,55.8C533.4,56.8 534.8,56.6 540.0,58.0C545.2,59.4 554.8,62.2 560.5,63.9C566.2,65.6 569.5,66.4 574.0,68.0C578.5,69.6 582.9,71.3 587.4,73.3C591.9,75.3 596.3,77.8 600.8,80.0C605.3,82.3 609.8,84.5 614.2,86.7C618.6,88.9 622.7,91.1 627.0,93.2C631.3,95.3 634.5,96.5 640.0,99.3C645.5,102.1 653.6,106.6 660.3,109.9C667.0,113.3 673.3,116.5 680.0,119.5C686.7,122.6 693.0,125.7 700.5,128.3C708.0,131.0 716.9,133.7 725.0,135.3C733.1,137.0 740.1,138.2 748.9,138.3C757.7,138.4 768.1,137.1 778.0,135.7C787.9,134.3 798.5,132.2 808.0,129.9C817.5,127.5 826.1,124.3 835.0,121.4C843.9,118.5 851.9,115.7 861.6,112.5C871.3,109.2 882.4,105.6 893.0,102.0C903.6,98.3 919.7,92.7 925.0,90.8" stroke="#ff0000" stroke-width="4.1" fill="none" stroke-linejoin="round" stroke-linecap="round"/>
<path d="M170.0,424.0C171.3,423.6 175.2,422.4 178.0,421.5C180.8,420.6 184.0,419.8 186.8,418.8C189.6,417.8 192.2,416.6 195.0,415.5C197.8,414.4 200.9,413.2 203.6,412.0C206.3,410.8 208.5,409.4 211.0,408.3C213.5,407.2 216.7,405.8 218.7,405.4C220.7,405.0 221.9,405.1 223.2,405.8C224.5,406.5 225.6,407.8 226.5,409.5C227.4,411.2 228.0,413.4 228.6,416.0C229.2,418.6 229.5,424.8 230.0,425.0C230.5,425.2 231.1,419.9 231.6,417.0C232.1,414.1 232.6,410.8 233.2,407.5C233.8,404.2 233.9,402.2 235.1,397.1C236.2,392.0 238.4,382.9 240.1,377.0C241.8,371.1 243.4,366.1 245.1,362.0C246.8,357.9 248.7,354.4 250.2,352.7C251.7,351.0 253.1,352.6 254.2,351.8C255.3,351.0 256.2,350.0 256.9,348.0C257.6,346.0 258.0,343.0 258.6,340.0C259.2,337.0 259.6,334.2 260.4,330.0C261.2,325.8 262.6,320.0 263.5,315.0C264.4,310.0 264.8,310.0 266.0,300.0C267.2,290.0 269.2,267.5 270.5,255.0C271.8,242.5 272.6,234.2 273.5,225.0C274.4,215.8 274.9,212.5 275.6,200.0C276.3,187.5 276.9,165.0 277.6,150.0C278.3,135.0 278.9,120.8 279.6,110.0C280.3,99.2 280.9,92.2 281.6,85.0C282.3,77.8 282.9,71.3 283.6,67.0C284.3,62.7 285.0,60.7 285.8,59.0C286.6,57.3 287.6,57.0 288.5,56.8C289.4,56.6 290.3,56.9 291.2,57.6C292.1,58.3 293.0,59.3 294.0,61.0C295.0,62.7 295.9,65.3 297.0,68.0C298.1,70.7 299.2,73.8 300.3,77.0C301.4,80.2 302.7,83.6 303.8,87.0C304.9,90.4 306.0,94.1 307.0,97.5C308.0,100.9 308.8,104.6 309.6,107.5C310.4,110.4 311.0,114.6 311.7,115.0C312.4,115.4 313.0,112.2 313.6,110.0C314.2,107.8 314.9,105.2 315.6,102.0C316.3,98.8 317.2,94.2 318.0,91.0C318.8,87.8 319.6,84.8 320.4,83.0C321.2,81.2 321.9,80.7 322.6,80.0C323.3,79.3 323.9,79.9 324.6,78.6C325.3,77.3 326.1,74.0 326.8,72.0C327.5,70.0 328.1,68.4 328.8,66.8C329.5,65.2 330.2,63.4 331.0,62.5C331.8,61.6 332.7,61.5 333.5,61.5C334.3,61.5 335.1,62.7 336.0,62.3C336.9,61.9 338.0,60.3 339.0,59.0C340.0,57.7 341.2,55.8 342.2,54.5C343.2,53.2 344.1,51.5 345.1,51.2C346.2,50.9 347.3,52.0 348.5,52.5C349.7,53.0 350.8,54.6 352.2,54.0C353.6,53.4 355.3,50.5 357.0,49.0C358.7,47.5 360.6,45.3 362.2,45.1C363.8,44.9 365.1,46.8 366.5,47.6C367.9,48.4 369.0,50.3 370.3,50.0C371.6,49.7 373.0,47.2 374.5,46.0C376.0,44.8 377.6,42.7 379.3,42.6C381.0,42.5 382.8,44.7 384.5,45.5C386.2,46.3 387.7,47.8 389.4,47.5C391.1,47.2 392.8,45.0 394.5,44.0C396.2,43.0 397.8,41.5 399.5,41.6C401.2,41.7 403.1,43.7 405.0,44.5C406.9,45.3 408.9,46.7 410.6,46.5C412.4,46.3 413.8,44.4 415.5,43.5C417.2,42.6 418.7,41.1 420.6,41.3C422.5,41.5 424.9,43.6 427.0,44.5C429.1,45.4 431.1,46.6 433.0,46.6C434.9,46.6 436.7,45.3 438.5,44.8C440.3,44.3 441.6,43.4 443.6,43.6C445.6,43.8 448.1,45.3 450.5,46.0C452.9,46.7 455.5,47.6 457.7,47.6C459.9,47.6 461.6,46.2 463.5,45.8C465.4,45.3 467.2,44.6 469.4,44.9C471.6,45.2 474.1,46.7 476.5,47.5C478.9,48.3 481.8,49.3 483.7,49.5C485.6,49.7 486.6,48.7 488.0,48.5C489.4,48.3 489.9,47.8 492.1,48.2C494.3,48.6 497.9,50.0 501.0,50.8C504.1,51.5 507.9,52.3 510.5,52.7C513.1,53.1 513.0,52.5 516.4,53.2C519.8,53.9 525.5,55.3 530.7,56.8C535.9,58.2 542.4,60.3 547.4,61.9C552.4,63.5 556.1,64.9 560.5,66.6C564.9,68.3 569.5,70.0 574.0,72.0C578.5,74.0 582.9,76.3 587.4,78.7C591.9,81.1 596.3,84.0 600.8,86.6C605.3,89.3 609.1,91.4 614.2,94.7C619.4,97.9 626.4,102.3 631.7,106.2C637.0,110.1 641.2,114.0 646.0,117.9C650.8,121.8 654.6,125.5 660.3,129.8C666.0,134.1 673.3,139.3 680.0,143.6C686.7,148.0 693.5,152.5 700.5,155.9C707.5,159.3 714.4,162.3 722.0,164.1C729.6,166.0 738.2,167.1 746.2,167.2C754.2,167.2 762.0,165.9 770.0,164.5C778.0,163.0 784.8,161.7 794.5,158.5C804.2,155.2 816.8,149.7 828.0,145.0C839.2,140.3 850.8,134.9 861.6,130.0C872.4,125.1 882.4,120.5 893.0,115.6C903.6,110.7 919.7,103.3 925.0,100.8" stroke="#0000ff" stroke-width="4.1" fill="none" stroke-linejoin="round" stroke-linecap="round"/>
<path d="M1190.1,418.7C1191.6,418.7 1196.0,418.7 1199.0,418.8C1202.0,418.9 1205.6,418.9 1208.0,419.3C1210.4,419.7 1211.7,420.2 1213.4,421.0C1215.1,421.8 1216.7,422.8 1218.0,424.0C1219.4,425.2 1220.6,426.3 1221.7,428.0C1222.8,429.7 1223.8,431.3 1224.7,434.0C1225.6,436.7 1226.3,440.0 1227.0,444.0C1227.7,448.0 1228.2,457.7 1228.8,458.0C1229.4,458.3 1229.9,450.2 1230.6,446.0C1231.3,441.8 1232.0,437.7 1233.0,433.0C1233.9,428.3 1235.1,422.6 1236.4,418.0C1237.7,413.4 1239.2,409.4 1241.0,405.7C1242.8,401.9 1244.9,398.5 1247.1,395.5C1249.2,392.5 1251.7,390.1 1253.9,387.6C1256.1,385.1 1258.3,382.7 1260.4,380.5C1262.6,378.3 1265.2,375.6 1266.8,374.5C1268.4,373.4 1269.2,373.8 1270.0,374.2C1270.9,374.6 1271.5,375.5 1272.2,377.0C1272.8,378.5 1273.4,384.2 1274.0,383.0C1274.6,381.8 1275.0,375.3 1276.0,370.0C1277.1,364.7 1278.6,357.5 1280.1,351.4C1281.6,345.3 1283.8,337.1 1285.2,333.5C1286.6,329.9 1287.5,330.5 1288.5,329.5C1289.4,328.5 1289.9,329.4 1290.7,327.5C1291.5,325.6 1292.2,322.6 1293.2,318.0C1294.3,313.4 1295.6,309.7 1297.1,300.0C1298.5,290.3 1300.5,271.7 1301.8,260.0C1303.1,248.3 1304.0,240.0 1304.9,230.0C1305.7,220.0 1306.1,218.3 1307.0,200.0C1307.9,181.7 1309.3,137.2 1310.3,120.0C1311.3,102.8 1312.1,104.7 1313.1,97.0C1314.1,89.3 1315.4,78.6 1316.4,74.0C1317.4,69.4 1318.2,70.5 1319.1,69.5C1320.0,68.5 1321.1,68.3 1322.0,68.3C1322.9,68.3 1323.8,68.9 1324.7,69.5C1325.5,70.1 1326.0,70.5 1327.0,72.0C1328.0,73.5 1329.2,75.9 1330.5,78.5C1331.8,81.1 1333.3,84.4 1334.6,87.5C1336.0,90.6 1337.2,93.7 1338.5,97.0C1339.8,100.3 1341.2,104.5 1342.3,107.5C1343.3,110.5 1344.0,112.7 1344.8,115.0C1345.6,117.3 1346.3,121.9 1347.1,121.5C1347.9,121.1 1348.8,115.4 1349.6,112.5C1350.4,109.6 1351.3,106.8 1352.1,104.0C1352.9,101.2 1353.7,98.0 1354.5,95.5C1355.3,93.0 1356.3,91.0 1357.2,89.0C1358.1,87.0 1359.2,84.8 1360.1,83.5C1361.0,82.2 1361.6,82.4 1362.5,81.5C1363.4,80.6 1364.6,79.5 1365.6,78.0C1366.6,76.5 1367.4,74.0 1368.5,72.5C1369.6,71.0 1370.7,69.6 1372.0,68.8C1373.3,68.0 1374.8,68.2 1376.1,67.5C1377.4,66.8 1378.7,65.8 1380.0,64.5C1381.3,63.2 1382.6,61.1 1384.0,59.5C1385.4,57.9 1387.6,55.7 1388.5,55.0C1389.4,54.3 1389.2,55.0 1389.5,55.1C1389.8,55.1 1390.2,55.2 1390.5,55.3C1390.8,55.3 1391.2,55.4 1391.5,55.6C1391.8,55.7 1392.2,55.8 1392.5,55.9C1392.8,56.0 1393.2,56.1 1393.5,56.2C1393.8,56.4 1394.2,56.5 1394.5,56.5C1394.8,56.6 1395.2,56.7 1395.5,56.7C1395.8,56.8 1396.1,56.8 1396.5,56.8C1396.9,56.8 1397.4,56.7 1397.9,56.5C1398.4,56.3 1398.9,55.9 1399.3,55.5C1399.8,55.1 1400.3,54.6 1400.7,54.1C1401.2,53.6 1401.7,53.0 1402.2,52.4C1402.6,51.8 1403.1,51.2 1403.6,50.7C1404.0,50.2 1404.5,49.7 1405.0,49.3C1405.4,48.9 1405.9,48.5 1406.4,48.3C1406.9,48.1 1407.3,48.0 1407.8,48.0C1408.3,48.0 1408.8,48.1 1409.3,48.2C1409.8,48.3 1410.2,48.5 1410.7,48.7C1411.2,49.0 1411.7,49.2 1412.2,49.5C1412.7,49.8 1413.2,50.2 1413.7,50.5C1414.1,50.8 1414.6,51.2 1415.1,51.5C1415.6,51.8 1416.1,52.0 1416.6,52.3C1417.1,52.5 1417.5,52.7 1418.0,52.8C1418.5,52.9 1419.0,53.0 1419.5,53.0C1420.0,53.0 1420.4,52.9 1420.8,52.6C1421.2,52.4 1421.7,52.0 1422.1,51.6C1422.6,51.2 1423.0,50.6 1423.4,50.1C1423.9,49.5 1424.3,48.9 1424.8,48.2C1425.2,47.6 1425.6,47.0 1426.1,46.4C1426.5,45.9 1426.9,45.3 1427.4,44.9C1427.8,44.5 1428.2,44.1 1428.7,43.9C1429.1,43.6 1429.5,43.5 1430.0,43.5C1430.5,43.5 1431.2,43.6 1431.8,43.7C1432.3,43.8 1432.9,44.1 1433.5,44.3C1434.1,44.6 1434.7,44.9 1435.2,45.2C1435.8,45.5 1436.4,45.9 1437.0,46.2C1437.6,46.6 1438.2,47.0 1438.8,47.3C1439.3,47.6 1439.9,47.9 1440.5,48.2C1441.1,48.4 1441.7,48.7 1442.2,48.8C1442.8,48.9 1443.5,49.0 1444.0,49.0C1444.5,49.0 1444.9,48.9 1445.4,48.7C1445.8,48.4 1446.3,48.1 1446.8,47.7C1447.2,47.3 1447.7,46.8 1448.1,46.2C1448.6,45.7 1449.0,45.1 1449.5,44.5C1450.0,43.9 1450.4,43.3 1450.9,42.8C1451.3,42.2 1451.8,41.7 1452.2,41.3C1452.7,40.9 1453.2,40.6 1453.6,40.3C1454.1,40.1 1454.5,40.0 1455.0,40.0C1455.5,40.0 1456.0,40.1 1456.5,40.2C1457.0,40.4 1457.5,40.6 1458.0,40.9C1458.5,41.1 1459.0,41.5 1459.5,41.9C1460.0,42.2 1460.5,42.6 1461.0,43.0C1461.5,43.4 1462.0,43.8 1462.5,44.1C1463.0,44.5 1463.5,44.9 1464.0,45.1C1464.5,45.4 1465.0,45.6 1465.5,45.8C1466.0,45.9 1466.4,46.0 1467.0,46.0C1467.6,46.0 1468.3,45.9 1468.9,45.7C1469.5,45.5 1470.2,45.2 1470.8,44.9C1471.5,44.6 1472.1,44.1 1472.7,43.7C1473.4,43.2 1474.0,42.7 1474.7,42.2C1475.3,41.8 1475.9,41.3 1476.6,40.8C1477.2,40.4 1477.8,39.9 1478.5,39.6C1479.1,39.3 1479.8,39.0 1480.4,38.8C1481.0,38.6 1481.7,38.5 1482.3,38.5C1482.9,38.5 1483.5,38.6 1484.1,38.8C1484.7,39.0 1485.3,39.2 1485.8,39.6C1486.4,39.9 1487.0,40.3 1487.6,40.8C1488.2,41.2 1488.8,41.7 1489.4,42.1C1490.0,42.6 1490.6,43.1 1491.2,43.5C1491.8,44.0 1492.4,44.4 1493.0,44.7C1493.5,45.1 1494.1,45.3 1494.7,45.5C1495.3,45.7 1495.9,45.8 1496.5,45.8C1497.1,45.8 1497.8,45.7 1498.4,45.5C1499.1,45.3 1499.7,45.0 1500.4,44.6C1501.0,44.2 1501.7,43.8 1502.3,43.3C1503.0,42.8 1503.6,42.2 1504.2,41.7C1504.9,41.2 1505.5,40.6 1506.2,40.1C1506.8,39.6 1507.5,39.2 1508.1,38.8C1508.8,38.4 1509.4,38.1 1510.1,37.9C1510.7,37.7 1511.3,37.6 1512.0,37.6C1512.7,37.6 1513.3,37.7 1514.0,37.9C1514.6,38.0 1515.3,38.3 1516.0,38.6C1516.6,38.9 1517.3,39.3 1517.9,39.8C1518.6,40.2 1519.2,40.7 1519.9,41.1C1520.6,41.5 1521.2,42.0 1521.9,42.4C1522.5,42.9 1523.2,43.3 1523.8,43.6C1524.5,43.9 1525.2,44.2 1525.8,44.3C1526.5,44.5 1527.1,44.6 1527.8,44.6C1528.5,44.6 1529.2,44.5 1529.9,44.3C1530.6,44.2 1531.3,43.9 1532.0,43.6C1532.7,43.3 1533.4,42.9 1534.1,42.5C1534.8,42.1 1535.5,41.7 1536.2,41.2C1536.8,40.8 1537.5,40.4 1538.2,40.0C1538.9,39.6 1539.6,39.2 1540.3,38.9C1541.0,38.6 1541.7,38.3 1542.4,38.2C1543.1,38.0 1543.8,37.9 1544.5,37.9C1545.2,37.9 1546.0,38.0 1546.7,38.1C1547.4,38.3 1548.1,38.5 1548.9,38.7C1549.6,39.0 1550.3,39.3 1551.1,39.7C1551.8,40.0 1552.5,40.4 1553.2,40.8C1554.0,41.1 1554.7,41.5 1555.4,41.8C1556.2,42.2 1556.9,42.5 1557.6,42.8C1558.4,43.0 1559.1,43.2 1559.8,43.4C1560.5,43.5 1561.3,43.6 1562.0,43.6C1562.7,43.6 1563.5,43.5 1564.2,43.4C1564.9,43.2 1565.6,43.0 1566.4,42.7C1567.1,42.5 1567.8,42.1 1568.6,41.8C1569.3,41.4 1570.0,41.0 1570.8,40.7C1571.5,40.3 1572.2,39.9 1572.9,39.5C1573.7,39.2 1574.4,38.8 1575.1,38.6C1575.9,38.3 1576.6,38.1 1577.3,37.9C1578.0,37.8 1578.8,37.7 1579.5,37.7C1580.2,37.7 1581.0,37.8 1581.7,37.9C1582.4,38.1 1583.1,38.3 1583.9,38.5C1584.6,38.8 1585.3,39.1 1586.1,39.5C1586.8,39.8 1587.5,40.2 1588.2,40.5C1589.0,40.9 1589.7,41.3 1590.4,41.6C1591.2,42.0 1591.9,42.3 1592.6,42.6C1593.4,42.8 1594.1,43.0 1594.8,43.2C1595.5,43.3 1596.2,43.4 1597.0,43.4C1597.8,43.4 1598.6,43.3 1599.4,43.2C1600.2,43.0 1601.0,42.8 1601.8,42.5C1602.7,42.3 1603.5,41.9 1604.3,41.6C1605.1,41.2 1605.9,40.8 1606.7,40.5C1607.5,40.1 1608.3,39.7 1609.1,39.3C1609.9,39.0 1610.7,38.6 1611.6,38.4C1612.4,38.1 1613.2,37.9 1614.0,37.7C1614.8,37.6 1615.6,37.5 1616.4,37.5C1617.2,37.5 1617.9,37.6 1618.7,37.7C1619.5,37.9 1620.3,38.1 1621.0,38.3C1621.8,38.6 1622.6,38.9 1623.3,39.3C1624.1,39.6 1624.9,40.0 1625.7,40.4C1626.4,40.7 1627.2,41.1 1628.0,41.4C1628.7,41.8 1629.5,42.1 1630.3,42.4C1631.0,42.6 1631.8,42.8 1632.6,43.0C1633.4,43.1 1634.1,43.2 1634.9,43.2C1635.7,43.2 1636.6,43.1 1637.5,43.0C1638.4,42.8 1639.2,42.6 1640.1,42.3C1641.0,42.1 1641.8,41.7 1642.7,41.3C1643.6,41.0 1644.4,40.6 1645.3,40.2C1646.2,39.8 1647.0,39.4 1647.9,39.1C1648.8,38.7 1649.6,38.3 1650.5,38.1C1651.4,37.8 1652.2,37.6 1653.1,37.4C1654.0,37.3 1654.8,37.2 1655.7,37.2C1656.6,37.2 1657.4,37.3 1658.2,37.4C1659.1,37.5 1659.9,37.8 1660.8,38.0C1661.6,38.3 1662.5,38.6 1663.3,38.9C1664.2,39.3 1665.0,39.6 1665.8,40.0C1666.7,40.4 1667.5,40.7 1668.4,41.1C1669.2,41.4 1670.1,41.7 1670.9,42.0C1671.8,42.2 1672.6,42.5 1673.5,42.6C1674.3,42.7 1675.2,42.8 1676.0,42.8C1676.8,42.8 1677.7,42.7 1678.5,42.6C1679.4,42.4 1680.2,42.2 1681.1,42.0C1681.9,41.7 1682.8,41.4 1683.6,41.0C1684.5,40.7 1685.3,40.3 1686.2,39.9C1687.0,39.5 1687.8,39.1 1688.7,38.8C1689.5,38.4 1690.4,38.1 1691.2,37.8C1692.1,37.6 1692.9,37.4 1693.8,37.2C1694.6,37.1 1695.4,37.0 1696.3,37.0C1697.2,37.0 1698.1,37.1 1699.0,37.2C1699.8,37.3 1700.7,37.6 1701.6,37.8C1702.5,38.1 1703.4,38.4 1704.2,38.7C1705.1,39.1 1706.0,39.4 1706.9,39.8C1707.8,40.2 1708.7,40.5 1709.5,40.9C1710.4,41.2 1711.3,41.5 1712.2,41.8C1713.1,42.0 1714.0,42.3 1714.8,42.4C1715.7,42.5 1716.6,42.6 1717.5,42.6C1718.4,42.6 1719.4,42.5 1720.3,42.4C1721.2,42.3 1722.1,42.0 1723.0,41.8C1724.0,41.5 1724.9,41.2 1725.8,40.9C1726.8,40.5 1727.7,40.2 1728.6,39.8C1729.5,39.4 1730.5,39.1 1731.4,38.7C1732.3,38.4 1733.2,38.1 1734.2,37.8C1735.1,37.6 1736.0,37.3 1736.9,37.2C1737.8,37.1 1738.8,37.0 1739.7,37.0C1740.6,37.0 1741.5,37.1 1742.5,37.2C1743.4,37.3 1744.3,37.6 1745.2,37.8C1746.1,38.1 1747.1,38.4 1748.0,38.7C1748.9,39.1 1749.8,39.4 1750.8,39.8C1751.7,40.2 1752.6,40.5 1753.5,40.9C1754.4,41.2 1755.4,41.5 1756.3,41.8C1757.2,42.0 1758.1,42.3 1759.0,42.4C1760.0,42.5 1760.9,42.6 1761.8,42.6C1762.7,42.6 1763.7,42.5 1764.7,42.4C1765.7,42.3 1766.6,42.0 1767.6,41.8C1768.5,41.5 1769.5,41.2 1770.5,40.9C1771.4,40.5 1772.4,40.2 1773.3,39.8C1774.3,39.4 1775.3,39.1 1776.2,38.7C1777.2,38.4 1778.2,38.1 1779.1,37.8C1780.1,37.6 1781.0,37.3 1782.0,37.2C1783.0,37.1 1783.9,37.0 1784.9,37.0C1785.9,37.0 1786.9,37.1 1787.9,37.2C1788.9,37.3 1789.9,37.6 1790.9,37.8C1791.9,38.1 1792.9,38.4 1793.9,38.7C1794.9,39.1 1795.9,39.4 1796.9,39.8C1797.9,40.2 1798.9,40.5 1799.9,40.9C1800.9,41.2 1801.9,41.5 1802.9,41.8C1803.9,42.0 1804.9,42.3 1805.9,42.4C1806.9,42.5 1807.9,42.6 1808.9,42.6C1809.9,42.6 1810.8,42.5 1811.8,42.4C1812.8,42.3 1813.7,42.0 1814.7,41.8C1815.6,41.5 1816.6,41.2 1817.6,40.9C1818.5,40.5 1819.5,40.2 1820.5,39.8C1821.4,39.4 1822.4,39.1 1823.3,38.7C1824.3,38.4 1825.3,38.1 1826.2,37.8C1827.2,37.6 1828.1,37.3 1829.1,37.2C1830.1,37.1 1831.0,37.0 1832.0,37.0C1833.0,37.0 1834.1,37.1 1835.1,37.2C1836.1,37.3 1837.2,37.6 1838.2,37.8C1839.3,38.1 1840.3,38.4 1841.3,38.7C1842.4,39.1 1843.4,39.4 1844.5,39.8C1845.5,40.2 1846.5,40.5 1847.6,40.9C1848.6,41.2 1849.6,41.5 1850.7,41.8C1851.7,42.0 1852.8,42.3 1853.8,42.4C1854.8,42.5 1855.9,42.6 1856.9,42.6C1857.9,42.6 1858.9,42.5 1859.9,42.4C1860.9,42.3 1861.9,42.0 1862.9,41.8C1863.9,41.5 1864.9,41.2 1865.9,40.9C1866.9,40.5 1867.9,40.2 1868.9,39.8C1869.9,39.4 1870.9,39.1 1871.9,38.7C1872.9,38.4 1873.9,38.1 1874.9,37.8C1875.9,37.6 1876.9,37.3 1877.9,37.2C1878.9,37.1 1879.9,37.0 1880.9,37.0C1881.9,37.0 1883.1,37.1 1884.1,37.2C1885.2,37.3 1886.3,37.5 1887.4,37.8C1888.5,38.0 1889.5,38.3 1890.6,38.7C1891.7,39.0 1892.8,39.4 1893.8,39.7C1894.9,40.0 1896.0,40.4 1897.1,40.7C1898.2,41.1 1899.2,41.4 1900.3,41.6C1901.4,41.9 1902.5,42.1 1903.6,42.2C1904.6,42.3 1905.6,42.4 1906.8,42.4C1908.0,42.4 1909.3,42.3 1910.6,42.2C1911.8,42.0 1913.1,41.8 1914.3,41.6C1915.6,41.3 1916.9,41.0 1918.1,40.6C1919.4,40.3 1920.6,39.9 1921.9,39.5C1923.2,39.1 1924.4,38.7 1925.7,38.4C1926.9,38.0 1928.2,37.7 1929.5,37.4C1930.7,37.2 1932.2,36.9 1933.2,36.8C1934.2,36.7 1935.2,36.7 1935.6,36.7" stroke="#000000" stroke-width="4.1" fill="none" stroke-linejoin="round" stroke-linecap="round"/>
<path d="M1190.1,418.7C1191.5,418.7 1195.8,418.7 1198.6,418.8C1201.5,418.9 1205.0,418.9 1207.3,419.3C1209.6,419.7 1210.9,420.2 1212.5,421.0C1214.2,421.8 1215.7,422.8 1217.0,424.0C1218.4,425.2 1219.5,426.3 1220.6,428.0C1221.6,429.7 1222.6,431.3 1223.5,434.0C1224.3,436.7 1225.0,440.0 1225.7,444.0C1226.4,448.0 1226.8,457.7 1227.4,458.0C1228.0,458.3 1228.5,450.2 1229.2,446.0C1229.9,441.8 1230.6,437.7 1231.6,433.0C1232.5,428.3 1233.7,422.6 1235.0,418.0C1236.3,413.4 1237.8,409.4 1239.6,405.7C1241.4,401.9 1243.5,398.5 1245.7,395.5C1247.9,392.5 1250.3,390.1 1252.6,387.6C1254.8,385.1 1256.9,382.7 1259.1,380.5C1261.2,378.3 1263.9,375.6 1265.5,374.5C1267.1,373.4 1267.8,373.8 1268.7,374.2C1269.6,374.6 1270.2,375.5 1270.8,377.0C1271.5,378.5 1272.0,384.2 1272.7,383.0C1273.3,381.8 1273.6,375.3 1274.6,370.0C1275.6,364.7 1277.0,357.5 1278.4,351.4C1279.9,345.3 1281.9,337.1 1283.3,333.5C1284.6,329.9 1285.5,330.5 1286.4,329.5C1287.2,328.5 1287.8,329.4 1288.5,327.5C1289.3,325.6 1289.9,322.6 1290.9,318.0C1291.9,313.4 1293.1,309.7 1294.5,300.0C1295.8,290.3 1297.8,271.7 1299.0,260.0C1300.2,248.3 1301.1,240.0 1301.9,230.0C1302.7,220.0 1303.1,218.3 1303.9,200.0C1304.7,181.7 1305.8,137.2 1306.6,120.0C1307.4,102.8 1308.0,104.7 1308.8,97.0C1309.7,89.3 1310.7,78.6 1311.5,74.0C1312.3,69.4 1312.9,70.5 1313.6,69.5C1314.4,68.5 1315.2,68.3 1316.0,68.3C1316.8,68.3 1317.7,68.9 1318.5,69.5C1319.3,70.1 1319.8,70.5 1320.7,72.0C1321.6,73.5 1322.7,75.9 1323.9,78.5C1325.1,81.1 1326.5,84.4 1327.8,87.5C1329.1,90.6 1330.3,93.7 1331.5,97.0C1332.7,100.3 1334.1,104.5 1335.1,107.5C1336.0,110.5 1336.7,112.7 1337.4,115.0C1338.2,117.3 1338.9,121.2 1339.6,121.5C1340.3,121.8 1340.8,118.7 1341.4,117.0C1342.0,115.3 1342.7,114.0 1343.4,111.5C1344.0,109.0 1344.7,105.0 1345.4,102.0C1346.2,99.0 1347.0,96.5 1347.9,93.7C1348.7,90.9 1349.8,87.3 1350.8,85.0C1351.8,82.7 1353.0,81.8 1353.9,80.0C1354.8,78.2 1355.6,75.9 1356.5,74.5C1357.3,73.1 1358.1,72.2 1358.9,71.5C1359.7,70.8 1360.6,70.7 1361.4,70.4C1362.2,70.2 1362.9,70.7 1363.8,70.0C1364.8,69.3 1366.0,67.7 1367.1,66.5C1368.2,65.3 1369.4,63.8 1370.5,63.0C1371.5,62.2 1372.3,61.8 1373.2,61.5C1374.1,61.2 1374.8,61.2 1375.7,61.3C1376.6,61.4 1377.1,63.1 1378.6,62.3C1380.2,61.5 1383.1,58.0 1385.0,56.5C1386.9,55.0 1388.3,54.3 1390.0,53.5C1391.7,52.7 1393.7,52.0 1395.4,51.8C1397.2,51.6 1398.8,52.1 1400.5,52.3C1402.2,52.5 1403.8,53.4 1405.5,53.2C1407.2,53.0 1409.2,51.7 1411.0,51.0C1412.8,50.3 1414.5,49.2 1416.3,49.0C1418.1,48.8 1420.0,49.6 1422.0,50.0C1424.0,50.4 1426.0,51.3 1428.0,51.2C1430.0,51.1 1432.0,49.9 1434.0,49.5C1436.0,49.1 1438.0,48.5 1439.8,48.6C1441.6,48.7 1443.3,49.5 1445.0,49.8C1446.7,50.2 1448.3,50.4 1450.0,50.5C1451.7,50.6 1453.3,50.4 1455.0,50.3C1456.7,50.3 1458.2,50.2 1460.0,50.2C1461.8,50.1 1463.0,49.9 1466.0,50.0C1469.0,50.2 1474.0,50.8 1478.0,51.1C1482.0,51.4 1485.8,51.5 1490.0,51.8C1494.2,52.2 1498.4,52.6 1503.0,53.1C1507.6,53.7 1512.2,54.1 1517.7,54.9C1523.2,55.7 1529.8,56.9 1536.0,57.8C1542.2,58.8 1548.4,59.8 1554.6,60.7C1560.8,61.6 1566.8,62.5 1573.0,63.3C1579.2,64.2 1585.3,65.0 1591.5,65.8C1597.7,66.6 1603.8,67.5 1610.0,68.2C1616.2,68.9 1622.7,69.8 1628.4,70.3C1634.1,70.8 1638.7,70.8 1644.0,71.1C1649.3,71.4 1654.0,71.7 1660.0,72.0C1666.0,72.3 1674.1,72.6 1680.0,72.8C1685.9,73.0 1688.7,73.2 1695.4,73.1C1702.1,73.0 1710.8,72.7 1720.0,72.4C1729.2,72.1 1741.1,71.7 1750.8,71.3C1760.5,70.9 1768.8,70.5 1778.0,70.1C1787.2,69.7 1796.8,69.4 1806.1,68.9C1815.4,68.4 1824.8,67.6 1834.0,67.0C1843.2,66.4 1851.0,65.8 1861.5,65.1C1872.0,64.5 1884.8,63.7 1897.0,62.9C1909.2,62.2 1928.7,60.9 1935.0,60.5" stroke="#ff00ff" stroke-width="4.1" fill="none" stroke-linejoin="round" stroke-linecap="round"/>
<path d="M1190.0,418.7C1191.4,418.7 1195.6,418.7 1198.4,418.8C1201.2,418.9 1204.7,418.9 1206.9,419.3C1209.2,419.7 1210.5,420.2 1212.1,421.0C1213.7,421.8 1215.2,422.8 1216.5,424.0C1217.8,425.2 1218.9,426.3 1219.9,428.0C1221.0,429.7 1221.9,431.3 1222.8,434.0C1223.6,436.7 1224.3,440.0 1225.0,444.0C1225.6,448.0 1226.1,457.7 1226.6,458.0C1227.2,458.3 1227.7,450.2 1228.4,446.0C1229.1,441.8 1229.8,437.7 1230.7,433.0C1231.7,428.3 1232.8,422.6 1234.1,418.0C1235.4,413.4 1236.8,409.4 1238.6,405.7C1240.3,401.9 1242.5,398.5 1244.6,395.5C1246.7,392.5 1249.1,390.1 1251.3,387.6C1253.5,385.1 1255.6,382.7 1257.7,380.5C1259.8,378.3 1262.4,375.6 1264.0,374.5C1265.5,373.4 1266.2,373.8 1267.1,374.2C1268.0,374.6 1268.6,375.5 1269.2,377.0C1269.8,378.5 1270.4,384.2 1271.0,383.0C1271.6,381.8 1271.9,375.3 1272.9,370.0C1273.8,364.7 1275.2,357.5 1276.6,351.4C1278.1,345.3 1280.1,337.1 1281.4,333.5C1282.7,329.9 1283.5,330.5 1284.4,329.5C1285.3,328.5 1285.8,329.4 1286.5,327.5C1287.2,325.6 1287.8,322.6 1288.8,318.0C1289.8,313.4 1291.0,309.7 1292.4,300.0C1293.7,290.3 1295.6,271.7 1296.8,260.0C1298.0,248.3 1298.8,240.0 1299.6,230.0C1300.4,220.0 1300.8,218.3 1301.6,200.0C1302.4,181.7 1303.4,137.2 1304.2,120.0C1305.0,102.8 1305.6,104.7 1306.4,97.0C1307.2,89.3 1308.3,78.6 1309.0,74.0C1309.8,69.4 1310.4,70.5 1311.1,69.5C1311.9,68.5 1312.7,68.3 1313.4,68.3C1314.2,68.3 1315.1,68.9 1315.9,69.5C1316.6,70.1 1317.1,70.5 1318.0,72.0C1318.8,73.5 1319.9,75.9 1321.1,78.5C1322.3,81.1 1323.6,84.4 1324.9,87.5C1326.1,90.6 1327.3,93.7 1328.4,97.0C1329.6,100.3 1330.9,104.5 1331.9,107.5C1332.9,110.5 1333.5,112.7 1334.2,115.0C1334.9,117.3 1335.6,121.2 1336.3,121.5C1337.0,121.8 1337.5,118.7 1338.2,117.0C1338.8,115.3 1339.5,114.0 1340.2,111.5C1340.9,109.0 1341.6,105.0 1342.4,102.0C1343.2,99.0 1344.0,96.5 1344.9,93.7C1345.9,90.9 1347.0,87.3 1348.0,85.0C1349.1,82.8 1350.3,81.9 1351.2,80.1C1352.1,78.4 1352.8,76.1 1353.6,74.7C1354.4,73.3 1355.2,72.4 1356.0,71.8C1356.8,71.1 1357.6,71.0 1358.5,70.7C1359.3,70.5 1360.0,71.0 1360.9,70.4C1361.9,69.8 1363.1,68.1 1364.2,67.0C1365.3,65.8 1366.5,64.3 1367.5,63.5C1368.5,62.7 1369.4,62.3 1370.2,62.0C1371.1,61.7 1371.8,61.7 1372.7,61.8C1373.6,61.9 1374.4,63.2 1375.7,62.8C1376.9,62.4 1378.0,61.2 1380.1,59.5C1382.1,57.8 1385.8,53.3 1388.0,52.5C1390.2,51.7 1391.3,53.9 1393.0,54.5C1394.7,55.1 1396.3,56.2 1398.0,56.0C1399.7,55.8 1401.3,54.0 1403.0,53.0C1404.7,52.0 1406.2,50.0 1408.0,49.8C1409.8,49.5 1411.7,50.9 1413.5,51.5C1415.3,52.1 1417.2,53.5 1419.0,53.5C1420.8,53.5 1422.3,52.0 1424.0,51.5C1425.7,51.0 1427.2,50.3 1429.0,50.2C1430.8,50.1 1432.7,50.7 1434.5,51.0C1436.3,51.3 1437.4,51.6 1440.0,51.8C1442.6,52.0 1446.7,51.8 1450.0,52.0C1453.3,52.1 1456.7,52.0 1460.0,52.5C1463.3,53.0 1463.5,53.7 1470.0,54.8C1476.5,55.8 1489.7,57.3 1499.2,58.7C1508.7,60.2 1517.8,61.7 1527.0,63.3C1536.2,64.9 1546.9,66.8 1554.6,68.3C1562.3,69.8 1566.8,71.0 1573.0,72.3C1579.2,73.6 1585.3,74.9 1591.5,76.1C1597.7,77.2 1603.8,78.3 1610.0,79.3C1616.2,80.3 1622.7,81.5 1628.4,82.3C1634.1,83.0 1638.7,83.3 1644.0,83.8C1649.3,84.3 1651.4,84.8 1660.0,85.2C1668.6,85.7 1685.4,86.3 1695.4,86.3C1705.4,86.4 1710.8,86.0 1720.0,85.5C1729.2,85.1 1741.1,84.4 1750.8,83.8C1760.5,83.3 1768.8,82.7 1778.0,82.2C1787.2,81.6 1796.8,81.2 1806.1,80.6C1815.4,79.9 1824.8,78.9 1834.0,78.1C1843.2,77.4 1851.0,76.7 1861.5,75.8C1872.0,75.0 1884.8,74.0 1897.0,73.2C1909.2,72.3 1928.7,71.0 1935.0,70.6" stroke="#808080" stroke-width="4.1" fill="none" stroke-linejoin="round" stroke-linecap="round"/>
<path d="M1190.0,418.7C1191.4,418.7 1195.5,418.7 1198.2,418.8C1201.0,418.9 1204.3,418.9 1206.5,419.3C1208.7,419.7 1210.0,420.2 1211.5,421.0C1213.1,421.8 1214.6,422.8 1215.8,424.0C1217.1,425.2 1218.2,426.3 1219.2,428.0C1220.2,429.7 1221.2,431.3 1222.0,434.0C1222.8,436.7 1223.5,440.0 1224.1,444.0C1224.8,448.0 1225.2,457.7 1225.8,458.0C1226.3,458.3 1226.8,450.2 1227.5,446.0C1228.2,441.8 1228.8,437.7 1229.8,433.0C1230.7,428.3 1231.8,422.6 1233.0,418.0C1234.3,413.4 1235.7,409.4 1237.4,405.7C1239.2,401.9 1241.2,398.5 1243.3,395.5C1245.3,392.5 1247.7,390.1 1249.8,387.6C1252.0,385.1 1254.0,382.7 1256.1,380.5C1258.2,378.3 1260.7,375.6 1262.2,374.5C1263.8,373.4 1264.4,373.8 1265.3,374.2C1266.2,374.6 1266.7,375.5 1267.4,377.0C1268.0,378.5 1268.5,384.2 1269.1,383.0C1269.7,381.8 1270.0,375.3 1270.9,370.0C1271.9,364.7 1273.2,357.5 1274.6,351.4C1276.0,345.3 1278.0,337.1 1279.2,333.5C1280.5,329.9 1281.4,330.5 1282.2,329.5C1283.0,328.5 1283.5,329.4 1284.3,327.5C1285.0,325.6 1285.5,322.6 1286.5,318.0C1287.5,313.4 1288.7,309.7 1290.0,300.0C1291.3,290.3 1293.1,271.7 1294.3,260.0C1295.5,248.3 1296.3,240.0 1297.1,230.0C1297.8,220.0 1298.2,218.3 1299.0,200.0C1299.8,181.7 1300.8,137.2 1301.6,120.0C1302.3,102.8 1302.9,104.7 1303.7,97.0C1304.5,89.3 1305.5,78.6 1306.3,74.0C1307.0,69.4 1307.6,70.5 1308.3,69.5C1309.0,68.5 1309.8,68.3 1310.6,68.3C1311.3,68.3 1312.2,68.9 1312.9,69.5C1313.7,70.1 1314.1,70.5 1315.0,72.0C1315.8,73.5 1316.9,75.9 1318.0,78.5C1319.2,81.1 1320.5,84.4 1321.7,87.5C1322.9,90.6 1324.1,93.7 1325.2,97.0C1326.4,100.3 1327.7,104.5 1328.6,107.5C1329.5,110.5 1330.1,112.7 1330.9,115.0C1331.6,117.3 1332.2,121.2 1332.9,121.5C1333.6,121.8 1334.2,118.7 1334.9,117.0C1335.5,115.3 1336.3,114.0 1337.0,111.5C1337.8,109.0 1338.5,105.0 1339.3,102.0C1340.1,99.0 1340.9,96.5 1341.9,93.7C1342.9,90.9 1344.1,87.3 1345.2,85.0C1346.3,82.8 1347.5,81.9 1348.5,80.1C1349.5,78.4 1350.2,76.1 1351.0,74.7C1351.9,73.3 1352.7,72.4 1353.5,71.8C1354.3,71.1 1355.2,71.0 1356.0,70.7C1356.8,70.5 1357.5,71.0 1358.5,70.4C1359.5,69.8 1360.7,68.1 1361.8,67.0C1362.9,65.8 1364.2,64.3 1365.2,63.5C1366.2,62.7 1367.1,62.3 1368.0,62.0C1368.9,61.7 1369.6,61.7 1370.5,61.8C1371.4,61.9 1372.2,63.2 1373.5,62.8C1374.8,62.4 1376.4,60.6 1378.0,59.5C1379.6,58.4 1381.8,57.1 1383.3,56.3C1384.8,55.5 1385.5,54.4 1387.0,54.5C1388.5,54.6 1390.3,56.2 1392.0,57.0C1393.7,57.8 1395.3,59.3 1397.0,59.0C1398.7,58.7 1400.3,56.2 1402.0,55.0C1403.7,53.8 1405.2,51.8 1407.0,51.6C1408.8,51.4 1410.7,53.2 1412.5,54.0C1414.3,54.8 1416.2,56.3 1418.0,56.4C1419.8,56.5 1421.3,55.2 1423.0,54.5C1424.7,53.8 1426.2,52.6 1428.0,52.4C1429.8,52.2 1432.0,52.9 1434.0,53.2C1436.0,53.5 1437.3,54.0 1440.0,54.2C1442.7,54.4 1446.7,54.4 1450.0,54.5C1453.3,54.6 1456.7,54.7 1460.0,55.1C1463.3,55.5 1463.5,55.5 1470.0,56.7C1476.5,57.9 1489.7,60.3 1499.2,62.4C1508.7,64.4 1517.8,66.6 1527.0,68.9C1536.2,71.3 1546.9,74.2 1554.6,76.6C1562.3,79.0 1566.8,81.1 1573.0,83.2C1579.2,85.3 1585.3,87.6 1591.5,89.5C1597.7,91.4 1603.8,93.0 1610.0,94.5C1616.2,96.0 1622.7,97.5 1628.4,98.5C1634.1,99.6 1638.7,100.3 1644.0,100.9C1649.3,101.6 1651.4,101.9 1660.0,102.5C1668.6,103.1 1685.4,104.5 1695.4,104.7C1705.4,104.9 1710.8,104.2 1720.0,103.6C1729.2,103.1 1741.1,102.1 1750.8,101.3C1760.5,100.5 1768.8,99.7 1778.0,98.8C1787.2,97.9 1796.8,97.1 1806.1,96.0C1815.4,94.8 1824.8,93.3 1834.0,92.0C1843.2,90.7 1851.0,89.4 1861.5,88.0C1872.0,86.7 1884.8,85.4 1897.0,84.1C1909.2,82.8 1928.7,80.9 1935.0,80.3" stroke="#ff0000" stroke-width="4.1" fill="none" stroke-linejoin="round" stroke-linecap="round"/>
<path d="M1190.0,418.7C1191.3,418.7 1195.3,418.7 1198.0,418.8C1200.7,418.9 1203.9,418.9 1206.1,419.3C1208.3,419.7 1209.5,420.2 1211.0,421.0C1212.5,421.8 1214.0,422.8 1215.2,424.0C1216.5,425.2 1217.5,426.3 1218.5,428.0C1219.5,429.7 1220.4,431.3 1221.2,434.0C1222.0,436.7 1222.7,440.0 1223.3,444.0C1223.9,448.0 1224.4,457.7 1224.9,458.0C1225.5,458.3 1225.9,450.2 1226.6,446.0C1227.2,441.8 1227.9,437.7 1228.8,433.0C1229.7,428.3 1230.8,422.6 1232.0,418.0C1233.2,413.4 1234.6,409.4 1236.3,405.7C1238.0,401.9 1240.0,398.5 1242.0,395.5C1244.0,392.5 1246.3,390.1 1248.4,387.6C1250.5,385.1 1252.5,382.7 1254.5,380.5C1256.5,378.3 1259.0,375.6 1260.5,374.5C1262.0,373.4 1262.7,373.8 1263.5,374.2C1264.3,374.6 1264.9,375.5 1265.5,377.0C1266.1,378.5 1266.6,384.2 1267.2,383.0C1267.8,381.8 1268.1,375.3 1269.0,370.0C1269.9,364.7 1271.2,357.5 1272.6,351.4C1273.9,345.3 1275.9,337.1 1277.1,333.5C1278.3,329.9 1279.2,330.5 1280.0,329.5C1280.8,328.5 1281.3,329.4 1282.0,327.5C1282.7,325.6 1283.3,322.6 1284.2,318.0C1285.1,313.4 1286.3,309.7 1287.6,300.0C1288.9,290.3 1290.6,271.7 1291.8,260.0C1293.0,248.3 1293.7,240.0 1294.5,230.0C1295.3,220.0 1295.7,218.3 1296.4,200.0C1297.1,181.7 1298.1,137.2 1298.9,120.0C1299.7,102.8 1300.2,104.7 1301.0,97.0C1301.8,89.3 1302.8,78.6 1303.5,74.0C1304.2,69.4 1304.8,70.5 1305.5,69.5C1306.2,68.5 1307.0,68.3 1307.7,68.3C1308.5,68.3 1309.3,68.9 1310.0,69.5C1310.7,70.1 1311.2,70.5 1312.0,72.0C1312.8,73.5 1313.9,75.9 1315.0,78.5C1316.1,81.1 1317.4,84.4 1318.6,87.5C1319.8,90.6 1320.9,93.7 1322.0,97.0C1323.1,100.3 1324.4,104.5 1325.3,107.5C1326.2,110.5 1326.8,112.7 1327.5,115.0C1328.2,117.3 1328.8,121.2 1329.5,121.5C1330.2,121.8 1330.8,118.7 1331.5,117.0C1332.2,115.3 1333.0,114.0 1333.7,111.5C1334.5,109.0 1335.2,105.0 1336.0,102.0C1336.8,99.0 1337.7,96.5 1338.7,93.7C1339.7,90.9 1340.9,87.3 1342.0,85.0C1343.1,82.7 1344.4,81.8 1345.4,80.0C1346.4,78.2 1347.2,75.9 1348.0,74.5C1348.8,73.1 1349.7,72.2 1350.5,71.5C1351.3,70.8 1352.2,70.7 1353.0,70.4C1353.8,70.2 1354.5,70.7 1355.5,70.0C1356.5,69.3 1357.7,67.7 1358.8,66.5C1359.9,65.3 1361.2,63.8 1362.2,63.0C1363.2,62.2 1364.1,61.8 1365.0,61.5C1365.9,61.2 1366.6,61.2 1367.5,61.3C1368.4,61.4 1369.2,62.7 1370.5,62.3C1371.8,61.9 1373.4,60.1 1375.0,59.0C1376.6,57.9 1378.8,56.2 1380.3,55.8C1381.8,55.4 1382.8,56.1 1384.0,56.5C1385.2,56.9 1386.3,58.3 1387.8,58.3C1389.3,58.3 1391.2,57.2 1393.0,56.5C1394.8,55.8 1396.9,54.1 1398.7,54.0C1400.5,53.9 1402.2,55.3 1404.0,56.0C1405.8,56.7 1407.8,58.3 1409.6,58.3C1411.4,58.3 1413.2,56.7 1415.0,56.0C1416.8,55.3 1418.6,54.0 1420.5,54.0C1422.4,54.0 1424.5,55.3 1426.5,56.0C1428.5,56.7 1430.6,57.8 1432.3,58.0C1434.0,58.2 1435.1,57.2 1436.5,57.0C1437.9,56.8 1439.3,56.4 1440.7,56.6C1442.1,56.9 1443.6,58.0 1445.0,58.5C1446.4,59.0 1447.3,59.3 1449.0,59.5C1450.7,59.7 1453.2,59.7 1455.0,59.8C1456.8,59.9 1457.2,59.9 1460.0,60.2C1462.8,60.5 1467.3,61.0 1471.5,61.8C1475.7,62.6 1480.4,64.1 1485.0,65.1C1489.6,66.2 1494.5,66.9 1499.2,68.0C1503.9,69.0 1508.4,69.9 1513.0,71.2C1517.6,72.5 1522.4,74.1 1526.9,75.7C1531.4,77.2 1535.4,78.8 1540.0,80.4C1544.6,82.1 1549.1,83.6 1554.6,85.7C1560.1,87.8 1566.8,90.6 1573.0,93.0C1579.2,95.3 1585.3,97.6 1591.5,99.8C1597.7,101.9 1603.8,104.2 1610.0,106.1C1616.2,107.9 1622.7,109.7 1628.4,111.0C1634.1,112.3 1638.7,113.1 1644.0,114.0C1649.3,114.8 1652.7,115.4 1660.0,116.0C1667.3,116.6 1678.0,117.7 1688.0,117.8C1698.0,117.8 1709.5,117.0 1720.0,116.3C1730.5,115.6 1741.1,114.6 1750.8,113.6C1760.5,112.5 1768.8,111.3 1778.0,110.0C1787.2,108.8 1796.8,107.5 1806.1,106.2C1815.4,104.8 1824.8,103.3 1834.0,101.9C1843.2,100.5 1851.0,99.1 1861.5,97.8C1872.0,96.4 1884.8,95.2 1897.0,93.8C1909.2,92.4 1928.7,90.2 1935.0,89.5" stroke="#0000ff" stroke-width="4.1" fill="none" stroke-linejoin="round" stroke-linecap="round"/>
<line x1="341.8" y1="185.1" x2="421.8" y2="185.1" stroke="#000000" stroke-width="4.6"/>
<line x1="341.8" y1="235.4" x2="421.8" y2="235.4" stroke="#00ff00" stroke-width="4.6"/>
<line x1="341.8" y1="286.5" x2="421.8" y2="286.5" stroke="#ff00ff" stroke-width="4.6"/>
<line x1="341.8" y1="333.9" x2="421.8" y2="333.9" stroke="#808080" stroke-width="4.6"/>
<line x1="344.8" y1="380.5" x2="424.8" y2="380.5" stroke="#ff0000" stroke-width="4.6"/>
<line x1="344.8" y1="428.3" x2="424.8" y2="428.3" stroke="#0000ff" stroke-width="4.6"/>
<text transform="translate(449.89,200.20) scale(0.9630,1.0000)" style="stroke:#000;stroke-width:0.35px;font-size:40.50px">Uncontrolled</text>
<text transform="translate(673.20,200.20) scale(0.9630,1.0000)" style="font-style:italic;stroke:#000;stroke-width:0.35px;font-size:40.50px">R</text>
<text transform="translate(700.86,208.70) scale(0.9630,1.0000)" style="stroke:#000;stroke-width:0.35px;font-size:26.48px">1</text>
<text transform="translate(453.60,247.10) scale(0.9630,1.0000)" style="font-style:italic;stroke:#000;stroke-width:0.35px;font-size:40.50px">R</text>
<text transform="translate(481.56,255.60) scale(0.9630,1.0000)" style="stroke:#000;stroke-width:0.35px;font-size:26.48px">1</text>
<text transform="translate(506.06,247.10) scale(0.9630,1.0000)" style="stroke:#000;stroke-width:0.35px;font-size:40.50px">with</text>
<text transform="translate(586.30,247.10) scale(0.9630,1.0000)" style="stroke:#000;stroke-width:0.35px;font-size:40.50px">LDRs</text>
<text transform="translate(454.60,300.55) scale(0.9630,1.0000)" style="font-style:italic;stroke:#000;stroke-width:0.35px;font-size:40.50px">R</text>
<text transform="translate(482.36,309.05) scale(0.9630,1.0000)" style="stroke:#000;stroke-width:0.35px;font-size:26.48px">1</text>
<text transform="translate(510.06,300.55) scale(0.9630,1.0000)" style="stroke:#000;stroke-width:0.35px;font-size:40.50px">with</text>
<text transform="translate(588.80,300.55) scale(0.9630,1.0000)" style="stroke:#000;stroke-width:0.35px;font-size:40.50px">LLRs</text>
<text transform="translate(688.13,302.05) scale(1.0000,1.0000)" style="font-family:'Liberation Serif',serif;font-size:42.50px">(</text>
<text transform="translate(702.04,300.55) scale(1.1300,1.0000)" style="font-family:'Liberation Serif',serif;font-style:italic;font-size:43.50px">σ</text>
<text transform="translate(743.70,303.35) scale(0.9630,1.0000)" style="stroke:#000;stroke-width:0.35px;font-size:40.50px">=</text>
<text transform="translate(782.08,300.55) scale(0.9630,1.0000)" style="stroke:#000;stroke-width:0.35px;font-size:40.50px">0.10</text>
<text transform="translate(857.23,302.05) scale(1.0000,1.0000)" style="font-family:'Liberation Serif',serif;font-size:42.50px">)</text>
<text transform="translate(454.60,349.50) scale(0.9630,1.0000)" style="font-style:italic;stroke:#000;stroke-width:0.35px;font-size:40.50px">R</text>
<text transform="translate(482.36,358.00) scale(0.9630,1.0000)" style="stroke:#000;stroke-width:0.35px;font-size:26.48px">1</text>
<text transform="translate(510.06,349.50) scale(0.9630,1.0000)" style="stroke:#000;stroke-width:0.35px;font-size:40.50px">with</text>
<text transform="translate(588.80,349.50) scale(0.9630,1.0000)" style="stroke:#000;stroke-width:0.35px;font-size:40.50px">LLRs</text>
<text transform="translate(688.13,351.00) scale(1.0000,1.0000)" style="font-family:'Liberation Serif',serif;font-size:42.50px">(</text>
<text transform="translate(702.04,349.50) scale(1.1300,1.0000)" style="font-family:'Liberation Serif',serif;font-style:italic;font-size:43.50px">σ</text>
<text transform="translate(743.70,352.30) scale(0.9630,1.0000)" style="stroke:#000;stroke-width:0.35px;font-size:40.50px">=</text>
<text transform="translate(782.08,349.50) scale(0.9630,1.0000)" style="stroke:#000;stroke-width:0.35px;font-size:40.50px">0.15</text>
<text transform="translate(857.23,351.00) scale(1.0000,1.0000)" style="font-family:'Liberation Serif',serif;font-size:42.50px">)</text>
<text transform="translate(454.60,394.80) scale(0.9630,1.0000)" style="font-style:italic;stroke:#000;stroke-width:0.35px;font-size:40.50px">R</text>
<text transform="translate(482.36,403.30) scale(0.9630,1.0000)" style="stroke:#000;stroke-width:0.35px;font-size:26.48px">1</text>
<text transform="translate(510.06,394.80) scale(0.9630,1.0000)" style="stroke:#000;stroke-width:0.35px;font-size:40.50px">with</text>
<text transform="translate(588.80,394.80) scale(0.9630,1.0000)" style="stroke:#000;stroke-width:0.35px;font-size:40.50px">LLRs</text>
<text transform="translate(688.13,396.30) scale(1.0000,1.0000)" style="font-family:'Liberation Serif',serif;font-size:42.50px">(</text>
<text transform="translate(702.04,394.80) scale(1.1300,1.0000)" style="font-family:'Liberation Serif',serif;font-style:italic;font-size:43.50px">σ</text>
<text transform="translate(743.70,397.60) scale(0.9630,1.0000)" style="stroke:#000;stroke-width:0.35px;font-size:40.50px">=</text>
<text transform="translate(782.08,394.80) scale(0.9630,1.0000)" style="stroke:#000;stroke-width:0.35px;font-size:40.50px">0.20</text>
<text transform="translate(857.23,396.30) scale(1.0000,1.0000)" style="font-family:'Liberation Serif',serif;font-size:42.50px">)</text>
<text transform="translate(454.60,445.70) scale(0.9630,1.0000)" style="font-style:italic;stroke:#000;stroke-width:0.35px;font-size:40.50px">R</text>
<text transform="translate(482.36,454.20) scale(0.9630,1.0000)" style="stroke:#000;stroke-width:0.35px;font-size:26.48px">1</text>
<text transform="translate(510.06,445.70) scale(0.9630,1.0000)" style="stroke:#000;stroke-width:0.35px;font-size:40.50px">with</text>
<text transform="translate(588.80,445.70) scale(0.9630,1.0000)" style="stroke:#000;stroke-width:0.35px;font-size:40.50px">LLRs</text>
<text transform="translate(688.13,447.20) scale(1.0000,1.0000)" style="font-family:'Liberation Serif',serif;font-size:42.50px">(</text>
<text transform="translate(702.04,445.70) scale(1.1300,1.0000)" style="font-family:'Liberation Serif',serif;font-style:italic;font-size:43.50px">σ</text>
<text transform="translate(743.70,448.50) scale(0.9630,1.0000)" style="stroke:#000;stroke-width:0.35px;font-size:40.50px">=</text>
<text transform="translate(782.08,445.70) scale(0.9630,1.0000)" style="stroke:#000;stroke-width:0.35px;font-size:40.50px">0.25</text>
<text transform="translate(857.23,447.20) scale(1.0000,1.0000)" style="font-family:'Liberation Serif',serif;font-size:42.50px">)</text>
<line x1="1357.0" y1="241.0" x2="1436.8" y2="241.0" stroke="#000000" stroke-width="4.6"/>
<line x1="1358.0" y1="284.3" x2="1438.4" y2="284.3" stroke="#ff00ff" stroke-width="4.6"/>
<line x1="1358.0" y1="331.7" x2="1438.4" y2="331.7" stroke="#808080" stroke-width="4.6"/>
<line x1="1361.5" y1="378.4" x2="1442.0" y2="378.4" stroke="#ff0000" stroke-width="4.6"/>
<line x1="1362.0" y1="426.2" x2="1442.0" y2="426.2" stroke="#0000ff" stroke-width="4.6"/>
<text transform="translate(1464.39,252.30) scale(0.9630,1.0000)" style="stroke:#000;stroke-width:0.35px;font-size:40.50px">Uncontrolled</text>
<text transform="translate(1688.70,252.30) scale(0.9630,1.0000)" style="font-style:italic;stroke:#000;stroke-width:0.35px;font-size:40.50px">R</text>
<text transform="translate(1716.06,260.80) scale(0.9630,1.0000)" style="stroke:#000;stroke-width:0.35px;font-size:26.48px">1</text>
<text transform="translate(1468.10,298.30) scale(0.9630,1.0000)" style="font-style:italic;stroke:#000;stroke-width:0.35px;font-size:40.50px">R</text>
<text transform="translate(1495.56,306.80) scale(0.9630,1.0000)" style="stroke:#000;stroke-width:0.35px;font-size:26.48px">1</text>
<text transform="translate(1523.56,298.30) scale(0.9630,1.0000)" style="stroke:#000;stroke-width:0.35px;font-size:40.50px">with</text>
<text transform="translate(1601.83,298.30) scale(0.9341,1.0000)" style="stroke:#000;stroke-width:0.35px;font-size:40.50px">VLRs</text>
<text transform="translate(1703.13,299.80) scale(1.0000,1.0000)" style="font-family:'Liberation Serif',serif;font-size:42.50px">(</text>
<text transform="translate(1717.34,298.30) scale(1.1300,1.0000)" style="font-family:'Liberation Serif',serif;font-style:italic;font-size:43.50px">σ</text>
<text transform="translate(1758.10,301.10) scale(0.9630,1.0000)" style="stroke:#000;stroke-width:0.35px;font-size:40.50px">=</text>
<text transform="translate(1797.88,298.30) scale(0.9630,1.0000)" style="stroke:#000;stroke-width:0.35px;font-size:40.50px">0.10</text>
<text transform="translate(1871.43,299.80) scale(1.0000,1.0000)" style="font-family:'Liberation Serif',serif;font-size:42.50px">)</text>
<text transform="translate(1468.10,346.20) scale(0.9630,1.0000)" style="font-style:italic;stroke:#000;stroke-width:0.35px;font-size:40.50px">R</text>
<text transform="translate(1495.56,354.70) scale(0.9630,1.0000)" style="stroke:#000;stroke-width:0.35px;font-size:26.48px">1</text>
<text transform="translate(1523.56,346.20) scale(0.9630,1.0000)" style="stroke:#000;stroke-width:0.35px;font-size:40.50px">with</text>
<text transform="translate(1601.83,346.20) scale(0.9341,1.0000)" style="stroke:#000;stroke-width:0.35px;font-size:40.50px">VLRs</text>
<text transform="translate(1703.13,347.70) scale(1.0000,1.0000)" style="font-family:'Liberation Serif',serif;font-size:42.50px">(</text>
<text transform="translate(1717.34,346.20) scale(1.1300,1.0000)" style="font-family:'Liberation Serif',serif;font-style:italic;font-size:43.50px">σ</text>
<text transform="translate(1758.10,349.00) scale(0.9630,1.0000)" style="stroke:#000;stroke-width:0.35px;font-size:40.50px">=</text>
<text transform="translate(1797.88,346.20) scale(0.9630,1.0000)" style="stroke:#000;stroke-width:0.35px;font-size:40.50px">0.15</text>
<text transform="translate(1871.43,347.70) scale(1.0000,1.0000)" style="font-family:'Liberation Serif',serif;font-size:42.50px">)</text>
<text transform="translate(1468.10,393.40) scale(0.9630,1.0000)" style="font-style:italic;stroke:#000;stroke-width:0.35px;font-size:40.50px">R</text>
<text transform="translate(1495.56,401.90) scale(0.9630,1.0000)" style="stroke:#000;stroke-width:0.35px;font-size:26.48px">1</text>
<text transform="translate(1523.56,393.40) scale(0.9630,1.0000)" style="stroke:#000;stroke-width:0.35px;font-size:40.50px">with</text>
<text transform="translate(1601.83,393.40) scale(0.9341,1.0000)" style="stroke:#000;stroke-width:0.35px;font-size:40.50px">VLRs</text>
<text transform="translate(1703.13,394.90) scale(1.0000,1.0000)" style="font-family:'Liberation Serif',serif;font-size:42.50px">(</text>
<text transform="translate(1717.34,393.40) scale(1.1300,1.0000)" style="font-family:'Liberation Serif',serif;font-style:italic;font-size:43.50px">σ</text>
<text transform="translate(1758.10,396.20) scale(0.9630,1.0000)" style="stroke:#000;stroke-width:0.35px;font-size:40.50px">=</text>
<text transform="translate(1797.88,393.40) scale(0.9630,1.0000)" style="stroke:#000;stroke-width:0.35px;font-size:40.50px">0.20</text>
<text transform="translate(1871.43,394.90) scale(1.0000,1.0000)" style="font-family:'Liberation Serif',serif;font-size:42.50px">)</text>
<text transform="translate(1468.10,443.00) scale(0.9630,1.0000)" style="font-style:italic;stroke:#000;stroke-width:0.35px;font-size:40.50px">R</text>
<text transform="translate(1495.56,451.50) scale(0.9630,1.0000)" style="stroke:#000;stroke-width:0.35px;font-size:26.48px">1</text>
<text transform="translate(1523.56,443.00) scale(0.9630,1.0000)" style="stroke:#000;stroke-width:0.35px;font-size:40.50px">with</text>
<text transform="translate(1601.83,443.00) scale(0.9341,1.0000)" style="stroke:#000;stroke-width:0.35px;font-size:40.50px">VLRs</text>
<text transform="translate(1703.13,444.50) scale(1.0000,1.0000)" style="font-family:'Liberation Serif',serif;font-size:42.50px">(</text>
<text transform="translate(1717.34,443.00) scale(1.1300,1.0000)" style="font-family:'Liberation Serif',serif;font-style:italic;font-size:43.50px">σ</text>
<text transform="translate(1758.10,445.80) scale(0.9630,1.0000)" style="stroke:#000;stroke-width:0.35px;font-size:40.50px">=</text>
<text transform="translate(1797.88,443.00) scale(0.9630,1.0000)" style="stroke:#000;stroke-width:0.35px;font-size:40.50px">0.25</text>
<text transform="translate(1871.43,444.50) scale(1.0000,1.0000)" style="font-family:'Liberation Serif',serif;font-size:42.50px">)</text>
<text transform="translate(134.12,577.80) scale(1.0000,1.0000)" style="font-family:'Liberation Serif',serif;font-size:45.00px">(</text>
<text transform="translate(149.42,576.80) scale(0.9630,1.0000)" style="stroke:#000;stroke-width:0.35px;font-size:43.62px">a</text>
<text transform="translate(172.85,577.80) scale(1.0000,1.0000)" style="font-family:'Liberation Serif',serif;font-size:45.00px">)</text>
<text transform="translate(1158.12,573.80) scale(1.0000,1.0000)" style="font-family:'Liberation Serif',serif;font-size:45.00px">(</text>
<text transform="translate(1172.49,575.30) scale(0.9630,1.0000)" style="stroke:#000;stroke-width:0.35px;font-size:43.62px">b</text>
<text transform="translate(1196.85,573.80) scale(1.0000,1.0000)" style="font-family:'Liberation Serif',serif;font-size:45.00px">)</text>
<text transform="translate(410.70,577.30) scale(0.9630,1.0000)" style="stroke:#000;stroke-width:0.35px;font-size:40.50px">Frequency</text>
<text transform="translate(604.23,578.30) scale(1.0000,1.0000)" style="font-family:'Liberation Serif',serif;font-size:42.50px">(</text>
<text transform="translate(617.00,577.30) scale(0.9630,1.0000)" style="stroke:#000;stroke-width:0.35px;font-size:40.50px">Hz</text>
<text transform="translate(664.13,578.30) scale(1.0000,1.0000)" style="font-family:'Liberation Serif',serif;font-size:42.50px">)</text>
<text transform="translate(1427.40,575.30) scale(0.9630,1.0000)" style="stroke:#000;stroke-width:0.35px;font-size:40.50px">Frequency</text>
<text transform="translate(1620.93,576.30) scale(1.0000,1.0000)" style="font-family:'Liberation Serif',serif;font-size:42.50px">(</text>
<text transform="translate(1633.70,575.30) scale(0.9630,1.0000)" style="stroke:#000;stroke-width:0.35px;font-size:40.50px">Hz</text>
<text transform="translate(1680.83,576.30) scale(1.0000,1.0000)" style="font-family:'Liberation Serif',serif;font-size:42.50px">)</text>
<text transform="translate(37.50,300.12) rotate(-90) scale(1.0000,1)" style="font-family:'Liberation Serif',serif;font-style:italic;font-size:40.00px">T</text>
<text transform="translate(44.50,280.85) rotate(-90) scale(1.0000,1)" style="font-family:'Liberation Serif',serif;font-style:italic;font-size:26.00px">ψ</text>
<text transform="translate(37.00,247.17) rotate(-90) scale(1.0000,1)" style="font-family:'Liberation Serif',serif;font-size:42.50px">(</text>
<text transform="translate(37.00,233.84) rotate(-90) scale(0.9630,1)" style="stroke:#000;stroke-width:0.35px;font-size:40.50px">dB</text>
<text transform="translate(37.00,187.77) rotate(-90) scale(1.0000,1)" style="font-family:'Liberation Serif',serif;font-size:42.50px">)</text>
<text transform="translate(1057.30,299.52) rotate(-90) scale(1.0000,1)" style="font-family:'Liberation Serif',serif;font-style:italic;font-size:40.00px">T</text>
<text transform="translate(1064.30,281.95) rotate(-90) scale(1.0000,1)" style="font-family:'Liberation Serif',serif;font-style:italic;font-size:26.00px">ψ</text>
<text transform="translate(1056.80,247.17) rotate(-90) scale(1.0000,1)" style="font-family:'Liberation Serif',serif;font-size:42.50px">(</text>
<text transform="translate(1056.80,233.84) rotate(-90) scale(0.9630,1)" style="stroke:#000;stroke-width:0.35px;font-size:40.50px">dB</text>
<text transform="translate(1056.80,188.37) rotate(-90) scale(1.0000,1)" style="font-family:'Liberation Serif',serif;font-size:42.50px">)</text>
</svg>
</body></html>
